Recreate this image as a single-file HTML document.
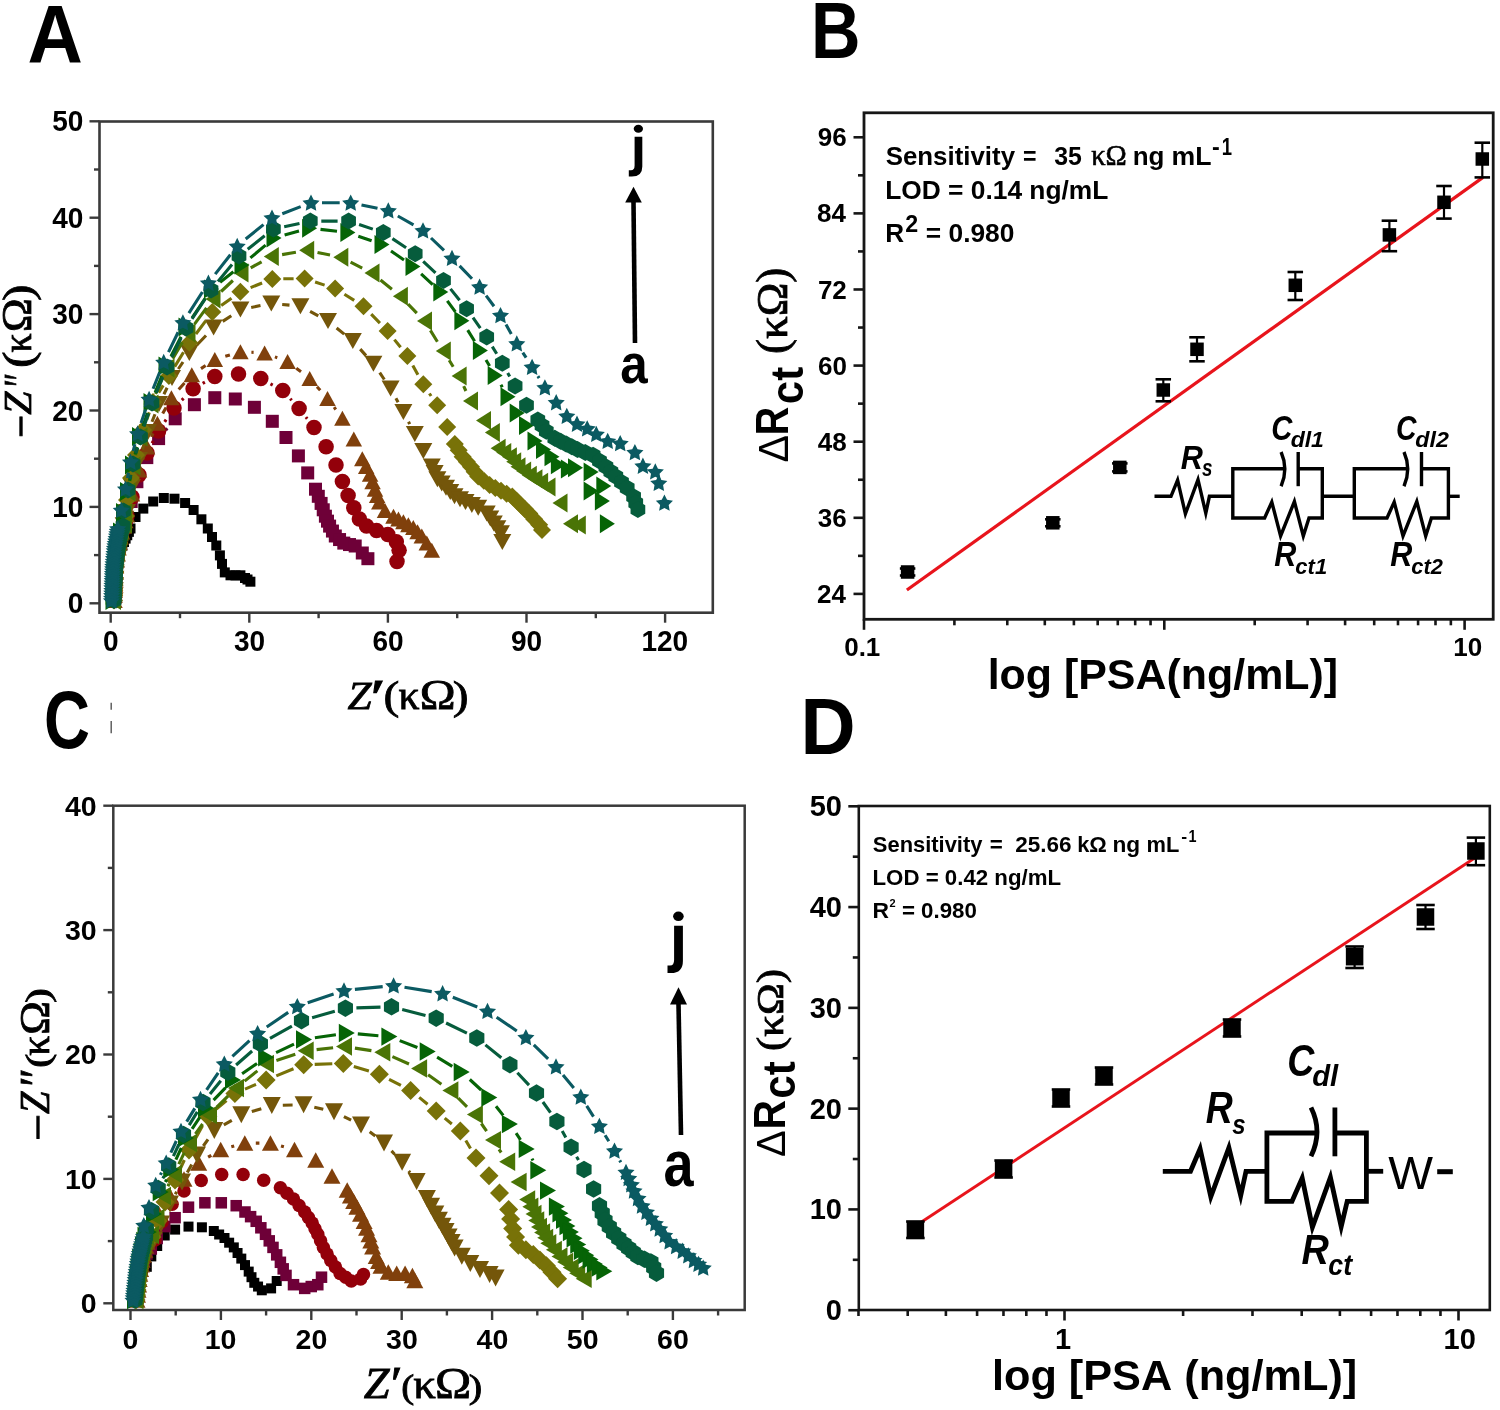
<!DOCTYPE html>
<html><head><meta charset="utf-8"><title>EIS figure</title>
<style>
html,body{margin:0;padding:0;background:#fff;}
body{width:1500px;height:1410px;overflow:hidden;font-family:"Liberation Sans",sans-serif;}
svg{display:block;will-change:transform;}
text{font-kerning:none;}
</style></head><body>
<svg xmlns="http://www.w3.org/2000/svg" width="1500" height="1410" viewBox="0 0 1500 1410">
<rect width="1500" height="1410" fill="#fff"/>
<line x1="89.50" y1="603.30" x2="99.50" y2="603.30" stroke="#3a3a3a" stroke-width="2.4" />
<text x="67.86" y="613.46" font-family='"Liberation Sans", sans-serif' font-weight="bold" font-style="normal" font-size="29.50" textLength="15.59" lengthAdjust="spacingAndGlyphs" fill="#000" >0</text>
<line x1="89.50" y1="506.90" x2="99.50" y2="506.90" stroke="#3a3a3a" stroke-width="2.4" />
<text x="52.28" y="517.06" font-family='"Liberation Sans", sans-serif' font-weight="bold" font-style="normal" font-size="29.50" textLength="31.17" lengthAdjust="spacingAndGlyphs" fill="#000" >10</text>
<line x1="89.50" y1="410.50" x2="99.50" y2="410.50" stroke="#3a3a3a" stroke-width="2.4" />
<text x="52.28" y="420.66" font-family='"Liberation Sans", sans-serif' font-weight="bold" font-style="normal" font-size="29.50" textLength="31.17" lengthAdjust="spacingAndGlyphs" fill="#000" >20</text>
<line x1="89.50" y1="314.10" x2="99.50" y2="314.10" stroke="#3a3a3a" stroke-width="2.4" />
<text x="52.28" y="324.23" font-family='"Liberation Sans", sans-serif' font-weight="bold" font-style="normal" font-size="29.50" textLength="31.17" lengthAdjust="spacingAndGlyphs" fill="#000" >30</text>
<line x1="89.50" y1="217.70" x2="99.50" y2="217.70" stroke="#3a3a3a" stroke-width="2.4" />
<text x="52.28" y="227.86" font-family='"Liberation Sans", sans-serif' font-weight="bold" font-style="normal" font-size="29.50" textLength="31.17" lengthAdjust="spacingAndGlyphs" fill="#000" >40</text>
<line x1="89.50" y1="121.30" x2="99.50" y2="121.30" stroke="#3a3a3a" stroke-width="2.4" />
<text x="52.28" y="131.46" font-family='"Liberation Sans", sans-serif' font-weight="bold" font-style="normal" font-size="29.50" textLength="31.17" lengthAdjust="spacingAndGlyphs" fill="#000" >50</text>
<line x1="94.00" y1="555.10" x2="99.50" y2="555.10" stroke="#3a3a3a" stroke-width="2.4" />
<line x1="94.00" y1="458.70" x2="99.50" y2="458.70" stroke="#3a3a3a" stroke-width="2.4" />
<line x1="94.00" y1="362.30" x2="99.50" y2="362.30" stroke="#3a3a3a" stroke-width="2.4" />
<line x1="94.00" y1="265.90" x2="99.50" y2="265.90" stroke="#3a3a3a" stroke-width="2.4" />
<line x1="94.00" y1="169.50" x2="99.50" y2="169.50" stroke="#3a3a3a" stroke-width="2.4" />
<line x1="110.70" y1="612.70" x2="110.70" y2="622.70" stroke="#3a3a3a" stroke-width="2.4" />
<text x="102.93" y="650.91" font-family='"Liberation Sans", sans-serif' font-weight="bold" font-style="normal" font-size="29.50" textLength="15.59" lengthAdjust="spacingAndGlyphs" fill="#000" >0</text>
<line x1="249.30" y1="612.70" x2="249.30" y2="622.70" stroke="#3a3a3a" stroke-width="2.4" />
<text x="233.97" y="650.88" font-family='"Liberation Sans", sans-serif' font-weight="bold" font-style="normal" font-size="29.50" textLength="31.17" lengthAdjust="spacingAndGlyphs" fill="#000" >30</text>
<line x1="387.90" y1="612.70" x2="387.90" y2="622.70" stroke="#3a3a3a" stroke-width="2.4" />
<text x="372.38" y="650.91" font-family='"Liberation Sans", sans-serif' font-weight="bold" font-style="normal" font-size="29.50" textLength="31.17" lengthAdjust="spacingAndGlyphs" fill="#000" >60</text>
<line x1="526.50" y1="612.70" x2="526.50" y2="622.70" stroke="#3a3a3a" stroke-width="2.4" />
<text x="511.00" y="650.91" font-family='"Liberation Sans", sans-serif' font-weight="bold" font-style="normal" font-size="29.50" textLength="31.17" lengthAdjust="spacingAndGlyphs" fill="#000" >90</text>
<line x1="665.10" y1="612.70" x2="665.10" y2="622.70" stroke="#3a3a3a" stroke-width="2.4" />
<text x="641.41" y="650.91" font-family='"Liberation Sans", sans-serif' font-weight="bold" font-style="normal" font-size="29.50" textLength="46.76" lengthAdjust="spacingAndGlyphs" fill="#000" >120</text>
<line x1="180.00" y1="612.70" x2="180.00" y2="618.20" stroke="#3a3a3a" stroke-width="2.4" />
<line x1="318.60" y1="612.70" x2="318.60" y2="618.20" stroke="#3a3a3a" stroke-width="2.4" />
<line x1="457.20" y1="612.70" x2="457.20" y2="618.20" stroke="#3a3a3a" stroke-width="2.4" />
<line x1="595.80" y1="612.70" x2="595.80" y2="618.20" stroke="#3a3a3a" stroke-width="2.4" />
<line x1="103.30" y1="1303.30" x2="113.30" y2="1303.30" stroke="#3a3a3a" stroke-width="2.4" />
<text x="80.82" y="1313.11" font-family='"Liberation Sans", sans-serif' font-weight="bold" font-style="normal" font-size="28.50" textLength="15.85" lengthAdjust="spacingAndGlyphs" fill="#000" >0</text>
<line x1="103.30" y1="1178.90" x2="113.30" y2="1178.90" stroke="#3a3a3a" stroke-width="2.4" />
<text x="64.97" y="1188.71" font-family='"Liberation Sans", sans-serif' font-weight="bold" font-style="normal" font-size="28.50" textLength="31.70" lengthAdjust="spacingAndGlyphs" fill="#000" >10</text>
<line x1="103.30" y1="1054.50" x2="113.30" y2="1054.50" stroke="#3a3a3a" stroke-width="2.4" />
<text x="64.97" y="1064.31" font-family='"Liberation Sans", sans-serif' font-weight="bold" font-style="normal" font-size="28.50" textLength="31.70" lengthAdjust="spacingAndGlyphs" fill="#000" >20</text>
<line x1="103.30" y1="930.10" x2="113.30" y2="930.10" stroke="#3a3a3a" stroke-width="2.4" />
<text x="64.97" y="939.89" font-family='"Liberation Sans", sans-serif' font-weight="bold" font-style="normal" font-size="28.50" textLength="31.70" lengthAdjust="spacingAndGlyphs" fill="#000" >30</text>
<line x1="103.30" y1="805.70" x2="113.30" y2="805.70" stroke="#3a3a3a" stroke-width="2.4" />
<text x="64.97" y="815.51" font-family='"Liberation Sans", sans-serif' font-weight="bold" font-style="normal" font-size="28.50" textLength="31.70" lengthAdjust="spacingAndGlyphs" fill="#000" >40</text>
<line x1="107.80" y1="1241.10" x2="113.30" y2="1241.10" stroke="#3a3a3a" stroke-width="2.4" />
<line x1="107.80" y1="1116.70" x2="113.30" y2="1116.70" stroke="#3a3a3a" stroke-width="2.4" />
<line x1="107.80" y1="992.30" x2="113.30" y2="992.30" stroke="#3a3a3a" stroke-width="2.4" />
<line x1="107.80" y1="867.90" x2="113.30" y2="867.90" stroke="#3a3a3a" stroke-width="2.4" />
<line x1="130.50" y1="1310.00" x2="130.50" y2="1320.00" stroke="#3a3a3a" stroke-width="2.4" />
<text x="122.60" y="1349.11" font-family='"Liberation Sans", sans-serif' font-weight="bold" font-style="normal" font-size="28.50" textLength="15.85" lengthAdjust="spacingAndGlyphs" fill="#000" >0</text>
<line x1="220.90" y1="1310.00" x2="220.90" y2="1320.00" stroke="#3a3a3a" stroke-width="2.4" />
<text x="204.74" y="1349.11" font-family='"Liberation Sans", sans-serif' font-weight="bold" font-style="normal" font-size="28.50" textLength="31.70" lengthAdjust="spacingAndGlyphs" fill="#000" >10</text>
<line x1="311.30" y1="1310.00" x2="311.30" y2="1320.00" stroke="#3a3a3a" stroke-width="2.4" />
<text x="295.54" y="1349.11" font-family='"Liberation Sans", sans-serif' font-weight="bold" font-style="normal" font-size="28.50" textLength="31.70" lengthAdjust="spacingAndGlyphs" fill="#000" >20</text>
<line x1="401.70" y1="1310.00" x2="401.70" y2="1320.00" stroke="#3a3a3a" stroke-width="2.4" />
<text x="386.11" y="1349.09" font-family='"Liberation Sans", sans-serif' font-weight="bold" font-style="normal" font-size="28.50" textLength="31.70" lengthAdjust="spacingAndGlyphs" fill="#000" >30</text>
<line x1="492.10" y1="1310.00" x2="492.10" y2="1320.00" stroke="#3a3a3a" stroke-width="2.4" />
<text x="476.62" y="1349.11" font-family='"Liberation Sans", sans-serif' font-weight="bold" font-style="normal" font-size="28.50" textLength="31.70" lengthAdjust="spacingAndGlyphs" fill="#000" >40</text>
<line x1="582.50" y1="1310.00" x2="582.50" y2="1320.00" stroke="#3a3a3a" stroke-width="2.4" />
<text x="566.80" y="1349.11" font-family='"Liberation Sans", sans-serif' font-weight="bold" font-style="normal" font-size="28.50" textLength="31.70" lengthAdjust="spacingAndGlyphs" fill="#000" >50</text>
<line x1="672.90" y1="1310.00" x2="672.90" y2="1320.00" stroke="#3a3a3a" stroke-width="2.4" />
<text x="657.11" y="1349.11" font-family='"Liberation Sans", sans-serif' font-weight="bold" font-style="normal" font-size="28.50" textLength="31.70" lengthAdjust="spacingAndGlyphs" fill="#000" >60</text>
<line x1="175.70" y1="1310.00" x2="175.70" y2="1315.50" stroke="#3a3a3a" stroke-width="2.4" />
<line x1="266.10" y1="1310.00" x2="266.10" y2="1315.50" stroke="#3a3a3a" stroke-width="2.4" />
<line x1="356.50" y1="1310.00" x2="356.50" y2="1315.50" stroke="#3a3a3a" stroke-width="2.4" />
<line x1="446.90" y1="1310.00" x2="446.90" y2="1315.50" stroke="#3a3a3a" stroke-width="2.4" />
<line x1="537.30" y1="1310.00" x2="537.30" y2="1315.50" stroke="#3a3a3a" stroke-width="2.4" />
<line x1="627.70" y1="1310.00" x2="627.70" y2="1315.50" stroke="#3a3a3a" stroke-width="2.4" />
<line x1="718.10" y1="1310.00" x2="718.10" y2="1315.50" stroke="#3a3a3a" stroke-width="2.4" />
<line x1="853.50" y1="593.90" x2="864.00" y2="593.90" stroke="#161616" stroke-width="2.6" />
<text x="817.02" y="602.98" font-family='"Liberation Sans", sans-serif' font-weight="bold" font-style="normal" font-size="26.00" textLength="28.92" lengthAdjust="spacingAndGlyphs" fill="#000" >24</text>
<line x1="853.50" y1="517.80" x2="864.00" y2="517.80" stroke="#161616" stroke-width="2.6" />
<text x="817.82" y="526.73" font-family='"Liberation Sans", sans-serif' font-weight="bold" font-style="normal" font-size="26.00" textLength="28.92" lengthAdjust="spacingAndGlyphs" fill="#000" >36</text>
<line x1="853.50" y1="441.69" x2="864.00" y2="441.69" stroke="#161616" stroke-width="2.6" />
<text x="817.68" y="450.64" font-family='"Liberation Sans", sans-serif' font-weight="bold" font-style="normal" font-size="26.00" textLength="28.92" lengthAdjust="spacingAndGlyphs" fill="#000" >48</text>
<line x1="853.50" y1="365.59" x2="864.00" y2="365.59" stroke="#161616" stroke-width="2.6" />
<text x="817.95" y="374.54" font-family='"Liberation Sans", sans-serif' font-weight="bold" font-style="normal" font-size="26.00" textLength="28.92" lengthAdjust="spacingAndGlyphs" fill="#000" >60</text>
<line x1="853.50" y1="289.48" x2="864.00" y2="289.48" stroke="#161616" stroke-width="2.6" />
<text x="817.92" y="298.56" font-family='"Liberation Sans", sans-serif' font-weight="bold" font-style="normal" font-size="26.00" textLength="28.92" lengthAdjust="spacingAndGlyphs" fill="#000" >72</text>
<line x1="853.50" y1="213.38" x2="864.00" y2="213.38" stroke="#161616" stroke-width="2.6" />
<text x="817.02" y="222.33" font-family='"Liberation Sans", sans-serif' font-weight="bold" font-style="normal" font-size="26.00" textLength="28.92" lengthAdjust="spacingAndGlyphs" fill="#000" >84</text>
<line x1="853.50" y1="137.28" x2="864.00" y2="137.28" stroke="#161616" stroke-width="2.6" />
<text x="817.82" y="146.23" font-family='"Liberation Sans", sans-serif' font-weight="bold" font-style="normal" font-size="26.00" textLength="28.92" lengthAdjust="spacingAndGlyphs" fill="#000" >96</text>
<line x1="858.00" y1="555.85" x2="864.00" y2="555.85" stroke="#161616" stroke-width="2.6" />
<line x1="858.00" y1="479.74" x2="864.00" y2="479.74" stroke="#161616" stroke-width="2.6" />
<line x1="858.00" y1="403.64" x2="864.00" y2="403.64" stroke="#161616" stroke-width="2.6" />
<line x1="858.00" y1="327.54" x2="864.00" y2="327.54" stroke="#161616" stroke-width="2.6" />
<line x1="858.00" y1="251.43" x2="864.00" y2="251.43" stroke="#161616" stroke-width="2.6" />
<line x1="858.00" y1="175.33" x2="864.00" y2="175.33" stroke="#161616" stroke-width="2.6" />
<line x1="864.00" y1="619.30" x2="864.00" y2="629.80" stroke="#161616" stroke-width="2.6" />
<line x1="1164.30" y1="619.30" x2="1164.30" y2="629.80" stroke="#161616" stroke-width="2.6" />
<line x1="1464.60" y1="619.30" x2="1464.60" y2="629.80" stroke="#161616" stroke-width="2.6" />
<line x1="954.40" y1="619.30" x2="954.40" y2="625.30" stroke="#161616" stroke-width="2.6" />
<line x1="1007.28" y1="619.30" x2="1007.28" y2="625.30" stroke="#161616" stroke-width="2.6" />
<line x1="1044.80" y1="619.30" x2="1044.80" y2="625.30" stroke="#161616" stroke-width="2.6" />
<line x1="1073.90" y1="619.30" x2="1073.90" y2="625.30" stroke="#161616" stroke-width="2.6" />
<line x1="1097.68" y1="619.30" x2="1097.68" y2="625.30" stroke="#161616" stroke-width="2.6" />
<line x1="1117.78" y1="619.30" x2="1117.78" y2="625.30" stroke="#161616" stroke-width="2.6" />
<line x1="1135.20" y1="619.30" x2="1135.20" y2="625.30" stroke="#161616" stroke-width="2.6" />
<line x1="1150.56" y1="619.30" x2="1150.56" y2="625.30" stroke="#161616" stroke-width="2.6" />
<line x1="1254.70" y1="619.30" x2="1254.70" y2="625.30" stroke="#161616" stroke-width="2.6" />
<line x1="1307.58" y1="619.30" x2="1307.58" y2="625.30" stroke="#161616" stroke-width="2.6" />
<line x1="1345.10" y1="619.30" x2="1345.10" y2="625.30" stroke="#161616" stroke-width="2.6" />
<line x1="1374.20" y1="619.30" x2="1374.20" y2="625.30" stroke="#161616" stroke-width="2.6" />
<line x1="1397.98" y1="619.30" x2="1397.98" y2="625.30" stroke="#161616" stroke-width="2.6" />
<line x1="1418.08" y1="619.30" x2="1418.08" y2="625.30" stroke="#161616" stroke-width="2.6" />
<line x1="1435.50" y1="619.30" x2="1435.50" y2="625.30" stroke="#161616" stroke-width="2.6" />
<line x1="1450.86" y1="619.30" x2="1450.86" y2="625.30" stroke="#161616" stroke-width="2.6" />
<text x="844.18" y="656.25" font-family='"Liberation Sans", sans-serif' font-weight="bold" font-style="normal" font-size="26.00" textLength="36.14" lengthAdjust="spacingAndGlyphs" fill="#000" >0.1</text>
<text x="1453.25" y="656.25" font-family='"Liberation Sans", sans-serif' font-weight="bold" font-style="normal" font-size="26.00" textLength="28.92" lengthAdjust="spacingAndGlyphs" fill="#000" >10</text>
<line x1="848.30" y1="1310.20" x2="858.80" y2="1310.20" stroke="#161616" stroke-width="2.6" />
<text x="825.86" y="1320.18" font-family='"Liberation Sans", sans-serif' font-weight="bold" font-style="normal" font-size="29.00" textLength="16.13" lengthAdjust="spacingAndGlyphs" fill="#000" >0</text>
<line x1="848.30" y1="1209.42" x2="858.80" y2="1209.42" stroke="#161616" stroke-width="2.6" />
<text x="809.73" y="1219.40" font-family='"Liberation Sans", sans-serif' font-weight="bold" font-style="normal" font-size="29.00" textLength="32.26" lengthAdjust="spacingAndGlyphs" fill="#000" >10</text>
<line x1="848.30" y1="1108.64" x2="858.80" y2="1108.64" stroke="#161616" stroke-width="2.6" />
<text x="809.73" y="1118.62" font-family='"Liberation Sans", sans-serif' font-weight="bold" font-style="normal" font-size="29.00" textLength="32.26" lengthAdjust="spacingAndGlyphs" fill="#000" >20</text>
<line x1="848.30" y1="1007.86" x2="858.80" y2="1007.86" stroke="#161616" stroke-width="2.6" />
<text x="809.73" y="1017.82" font-family='"Liberation Sans", sans-serif' font-weight="bold" font-style="normal" font-size="29.00" textLength="32.26" lengthAdjust="spacingAndGlyphs" fill="#000" >30</text>
<line x1="848.30" y1="907.08" x2="858.80" y2="907.08" stroke="#161616" stroke-width="2.6" />
<text x="809.73" y="917.06" font-family='"Liberation Sans", sans-serif' font-weight="bold" font-style="normal" font-size="29.00" textLength="32.26" lengthAdjust="spacingAndGlyphs" fill="#000" >40</text>
<line x1="848.30" y1="806.30" x2="858.80" y2="806.30" stroke="#161616" stroke-width="2.6" />
<text x="809.73" y="816.28" font-family='"Liberation Sans", sans-serif' font-weight="bold" font-style="normal" font-size="29.00" textLength="32.26" lengthAdjust="spacingAndGlyphs" fill="#000" >50</text>
<line x1="852.80" y1="1259.81" x2="858.80" y2="1259.81" stroke="#161616" stroke-width="2.6" />
<line x1="852.80" y1="1159.03" x2="858.80" y2="1159.03" stroke="#161616" stroke-width="2.6" />
<line x1="852.80" y1="1058.25" x2="858.80" y2="1058.25" stroke="#161616" stroke-width="2.6" />
<line x1="852.80" y1="957.47" x2="858.80" y2="957.47" stroke="#161616" stroke-width="2.6" />
<line x1="852.80" y1="856.69" x2="858.80" y2="856.69" stroke="#161616" stroke-width="2.6" />
<line x1="1064.50" y1="1310.00" x2="1064.50" y2="1320.50" stroke="#161616" stroke-width="2.6" />
<line x1="1458.50" y1="1310.00" x2="1458.50" y2="1320.50" stroke="#161616" stroke-width="2.6" />
<line x1="858.49" y1="1310.00" x2="858.49" y2="1316.00" stroke="#161616" stroke-width="2.6" />
<line x1="907.71" y1="1310.00" x2="907.71" y2="1316.00" stroke="#161616" stroke-width="2.6" />
<line x1="945.89" y1="1310.00" x2="945.89" y2="1316.00" stroke="#161616" stroke-width="2.6" />
<line x1="977.09" y1="1310.00" x2="977.09" y2="1316.00" stroke="#161616" stroke-width="2.6" />
<line x1="1003.47" y1="1310.00" x2="1003.47" y2="1316.00" stroke="#161616" stroke-width="2.6" />
<line x1="1026.32" y1="1310.00" x2="1026.32" y2="1316.00" stroke="#161616" stroke-width="2.6" />
<line x1="1046.47" y1="1310.00" x2="1046.47" y2="1316.00" stroke="#161616" stroke-width="2.6" />
<line x1="1183.11" y1="1310.00" x2="1183.11" y2="1316.00" stroke="#161616" stroke-width="2.6" />
<line x1="1252.49" y1="1310.00" x2="1252.49" y2="1316.00" stroke="#161616" stroke-width="2.6" />
<line x1="1301.71" y1="1310.00" x2="1301.71" y2="1316.00" stroke="#161616" stroke-width="2.6" />
<line x1="1339.89" y1="1310.00" x2="1339.89" y2="1316.00" stroke="#161616" stroke-width="2.6" />
<line x1="1371.09" y1="1310.00" x2="1371.09" y2="1316.00" stroke="#161616" stroke-width="2.6" />
<line x1="1397.47" y1="1310.00" x2="1397.47" y2="1316.00" stroke="#161616" stroke-width="2.6" />
<line x1="1420.32" y1="1310.00" x2="1420.32" y2="1316.00" stroke="#161616" stroke-width="2.6" />
<line x1="1440.47" y1="1310.00" x2="1440.47" y2="1316.00" stroke="#161616" stroke-width="2.6" />
<text x="1054.93" y="1348.88" font-family='"Liberation Sans", sans-serif' font-weight="bold" font-style="normal" font-size="29.00" textLength="16.13" lengthAdjust="spacingAndGlyphs" fill="#000" >1</text>
<text x="1443.55" y="1348.88" font-family='"Liberation Sans", sans-serif' font-weight="bold" font-style="normal" font-size="29.00" textLength="32.26" lengthAdjust="spacingAndGlyphs" fill="#000" >10</text>
<rect x="99.50" y="121.50" width="613.30" height="491.20" fill="none" stroke="#3a3a3a" stroke-width="2.6"/>
<rect x="113.30" y="805.70" width="631.40" height="504.30" fill="none" stroke="#3a3a3a" stroke-width="2.5"/>
<rect x="864.00" y="112.80" width="629.20" height="506.50" fill="none" stroke="#161616" stroke-width="2.8"/>
<rect x="858.80" y="806.00" width="631.00" height="504.00" fill="none" stroke="#161616" stroke-width="2.6"/>
<text x="27.39" y="61.60" font-family='"Liberation Sans", sans-serif' font-weight="bold" font-style="normal" font-size="81.40" textLength="55.33" lengthAdjust="spacingAndGlyphs" fill="#000" >A</text>
<text x="810.92" y="58.20" font-family='"Liberation Sans", sans-serif' font-weight="bold" font-style="normal" font-size="79.51" textLength="49.50" lengthAdjust="spacingAndGlyphs" fill="#000" >B</text>
<text x="44.09" y="747.91" font-family='"Liberation Sans", sans-serif' font-weight="bold" font-style="normal" font-size="80.65" textLength="45.95" lengthAdjust="spacingAndGlyphs" fill="#000" >C</text>
<text x="800.40" y="753.80" font-family='"Liberation Sans", sans-serif' font-weight="bold" font-style="normal" font-size="80.38" textLength="55.11" lengthAdjust="spacingAndGlyphs" fill="#000" >D</text>
<line x1="111.20" y1="702.80" x2="111.20" y2="709.70" stroke="#555" stroke-width="1.4" />
<line x1="111.20" y1="721.00" x2="111.20" y2="733.20" stroke="#555" stroke-width="1.4" />
<rect x="109.00" y="595.50" width="10.00" height="10.00" fill="#000000"/>
<rect x="109.12" y="591.62" width="10.00" height="10.00" fill="#000000"/>
<rect x="109.25" y="587.75" width="10.00" height="10.00" fill="#000000"/>
<rect x="109.38" y="583.88" width="10.00" height="10.00" fill="#000000"/>
<rect x="109.50" y="580.00" width="10.00" height="10.00" fill="#000000"/>
<rect x="109.80" y="576.40" width="10.00" height="10.00" fill="#000000"/>
<rect x="110.10" y="572.80" width="10.00" height="10.00" fill="#000000"/>
<rect x="110.40" y="569.20" width="10.00" height="10.00" fill="#000000"/>
<rect x="110.70" y="565.60" width="10.00" height="10.00" fill="#000000"/>
<rect x="111.00" y="562.00" width="10.00" height="10.00" fill="#000000"/>
<rect x="111.75" y="558.50" width="10.00" height="10.00" fill="#000000"/>
<rect x="112.50" y="555.00" width="10.00" height="10.00" fill="#000000"/>
<rect x="113.25" y="551.50" width="10.00" height="10.00" fill="#000000"/>
<rect x="114.00" y="548.00" width="10.00" height="10.00" fill="#000000"/>
<rect x="115.67" y="544.33" width="10.00" height="10.00" fill="#000000"/>
<rect x="117.33" y="540.67" width="10.00" height="10.00" fill="#000000"/>
<rect x="119.00" y="537.00" width="10.00" height="10.00" fill="#000000"/>
<rect x="120.62" y="533.62" width="10.00" height="10.00" fill="#000000"/>
<rect x="122.25" y="530.25" width="10.00" height="10.00" fill="#000000"/>
<rect x="123.88" y="526.88" width="10.00" height="10.00" fill="#000000"/>
<rect x="125.50" y="523.50" width="10.00" height="10.00" fill="#000000"/>
<rect x="130.50" y="512.00" width="10.00" height="10.00" fill="#000000"/>
<rect x="138.30" y="503.60" width="10.00" height="10.00" fill="#000000"/>
<rect x="148.20" y="496.50" width="10.00" height="10.00" fill="#000000"/>
<rect x="158.80" y="493.00" width="10.00" height="10.00" fill="#000000"/>
<rect x="169.50" y="493.70" width="10.00" height="10.00" fill="#000000"/>
<rect x="180.10" y="498.00" width="10.00" height="10.00" fill="#000000"/>
<rect x="188.60" y="505.00" width="10.00" height="10.00" fill="#000000"/>
<rect x="196.40" y="514.30" width="10.00" height="10.00" fill="#000000"/>
<rect x="202.80" y="523.50" width="10.00" height="10.00" fill="#000000"/>
<rect x="207.00" y="532.00" width="10.00" height="10.00" fill="#000000"/>
<rect x="211.30" y="540.50" width="10.00" height="10.00" fill="#000000"/>
<rect x="214.90" y="550.40" width="10.00" height="10.00" fill="#000000"/>
<rect x="217.00" y="558.90" width="10.00" height="10.00" fill="#000000"/>
<rect x="219.80" y="567.40" width="10.00" height="10.00" fill="#000000"/>
<rect x="225.50" y="570.30" width="10.00" height="10.00" fill="#000000"/>
<rect x="230.50" y="570.40" width="10.00" height="10.00" fill="#000000"/>
<rect x="235.40" y="570.30" width="10.00" height="10.00" fill="#000000"/>
<rect x="240.00" y="573.00" width="10.00" height="10.00" fill="#000000"/>
<rect x="242.50" y="574.50" width="10.00" height="10.00" fill="#000000"/>
<rect x="245.40" y="576.70" width="10.00" height="10.00" fill="#000000"/>
<path d="M141.1,471.5 L142.6,467.8 M165.7,430.2 L168.1,427.2" fill="none" stroke="#6E0038" stroke-width="3.1" stroke-dasharray="2.5,5"/>
<rect x="108.00" y="594.00" width="13.00" height="13.00" fill="#6E0038"/>
<rect x="108.17" y="588.83" width="13.00" height="13.00" fill="#6E0038"/>
<rect x="108.33" y="583.67" width="13.00" height="13.00" fill="#6E0038"/>
<rect x="108.50" y="578.50" width="13.00" height="13.00" fill="#6E0038"/>
<rect x="108.83" y="572.17" width="13.00" height="13.00" fill="#6E0038"/>
<rect x="109.17" y="565.83" width="13.00" height="13.00" fill="#6E0038"/>
<rect x="109.50" y="559.50" width="13.00" height="13.00" fill="#6E0038"/>
<rect x="110.33" y="553.50" width="13.00" height="13.00" fill="#6E0038"/>
<rect x="111.17" y="547.50" width="13.00" height="13.00" fill="#6E0038"/>
<rect x="112.00" y="541.50" width="13.00" height="13.00" fill="#6E0038"/>
<rect x="113.17" y="536.17" width="13.00" height="13.00" fill="#6E0038"/>
<rect x="114.33" y="530.83" width="13.00" height="13.00" fill="#6E0038"/>
<rect x="115.50" y="525.50" width="13.00" height="13.00" fill="#6E0038"/>
<rect x="117.50" y="518.50" width="13.00" height="13.00" fill="#6E0038"/>
<rect x="119.50" y="511.50" width="13.00" height="13.00" fill="#6E0038"/>
<rect x="124.70" y="495.00" width="13.00" height="13.00" fill="#6E0038"/>
<rect x="130.40" y="475.20" width="13.00" height="13.00" fill="#6E0038"/>
<rect x="140.30" y="451.10" width="13.00" height="13.00" fill="#6E0038"/>
<rect x="152.10" y="432.10" width="13.00" height="13.00" fill="#6E0038"/>
<rect x="168.70" y="412.30" width="13.00" height="13.00" fill="#6E0038"/>
<rect x="187.90" y="398.20" width="13.00" height="13.00" fill="#6E0038"/>
<rect x="208.30" y="391.20" width="13.00" height="13.00" fill="#6E0038"/>
<rect x="228.80" y="392.50" width="13.00" height="13.00" fill="#6E0038"/>
<rect x="247.90" y="400.80" width="13.00" height="13.00" fill="#6E0038"/>
<rect x="265.80" y="414.80" width="13.00" height="13.00" fill="#6E0038"/>
<rect x="279.50" y="431.00" width="13.00" height="13.00" fill="#6E0038"/>
<rect x="291.90" y="449.40" width="13.00" height="13.00" fill="#6E0038"/>
<rect x="301.20" y="466.40" width="13.00" height="13.00" fill="#6E0038"/>
<rect x="309.00" y="482.70" width="13.00" height="13.00" fill="#6E0038"/>
<rect x="311.80" y="489.80" width="13.00" height="13.00" fill="#6E0038"/>
<rect x="314.60" y="496.90" width="13.00" height="13.00" fill="#6E0038"/>
<rect x="316.75" y="503.30" width="13.00" height="13.00" fill="#6E0038"/>
<rect x="318.90" y="509.70" width="13.00" height="13.00" fill="#6E0038"/>
<rect x="321.00" y="514.65" width="13.00" height="13.00" fill="#6E0038"/>
<rect x="323.10" y="519.60" width="13.00" height="13.00" fill="#6E0038"/>
<rect x="325.95" y="524.55" width="13.00" height="13.00" fill="#6E0038"/>
<rect x="328.80" y="529.50" width="13.00" height="13.00" fill="#6E0038"/>
<rect x="333.05" y="533.05" width="13.00" height="13.00" fill="#6E0038"/>
<rect x="337.30" y="536.60" width="13.00" height="13.00" fill="#6E0038"/>
<rect x="343.00" y="538.05" width="13.00" height="13.00" fill="#6E0038"/>
<rect x="348.70" y="539.50" width="13.00" height="13.00" fill="#6E0038"/>
<rect x="355.80" y="546.50" width="13.00" height="13.00" fill="#6E0038"/>
<rect x="361.40" y="552.20" width="13.00" height="13.00" fill="#6E0038"/>
<path d="M152.1,443.3 L153.5,440.6 M164.7,421.8 L167.9,417.0 M181.8,400.1 L185.3,396.6 M202.7,383.4 L205.2,382.0 M270.5,383.9 L273.1,385.3 M290.2,398.7 L291.7,400.3 M305.9,417.1 L307.2,418.8" fill="none" stroke="#93000A" stroke-width="3.1" stroke-dasharray="2.5,5"/>
<circle cx="114.50" cy="600.50" r="7.75" fill="#93000A"/>
<circle cx="114.67" cy="595.33" r="7.75" fill="#93000A"/>
<circle cx="114.83" cy="590.17" r="7.75" fill="#93000A"/>
<circle cx="115.00" cy="585.00" r="7.75" fill="#93000A"/>
<circle cx="115.33" cy="578.67" r="7.75" fill="#93000A"/>
<circle cx="115.67" cy="572.33" r="7.75" fill="#93000A"/>
<circle cx="116.00" cy="566.00" r="7.75" fill="#93000A"/>
<circle cx="116.83" cy="560.00" r="7.75" fill="#93000A"/>
<circle cx="117.67" cy="554.00" r="7.75" fill="#93000A"/>
<circle cx="118.50" cy="548.00" r="7.75" fill="#93000A"/>
<circle cx="119.67" cy="542.67" r="7.75" fill="#93000A"/>
<circle cx="120.83" cy="537.33" r="7.75" fill="#93000A"/>
<circle cx="122.00" cy="532.00" r="7.75" fill="#93000A"/>
<circle cx="123.67" cy="526.67" r="7.75" fill="#93000A"/>
<circle cx="125.33" cy="521.33" r="7.75" fill="#93000A"/>
<circle cx="127.00" cy="516.00" r="7.75" fill="#93000A"/>
<circle cx="132.00" cy="497.00" r="7.75" fill="#93000A"/>
<circle cx="139.00" cy="475.00" r="7.75" fill="#93000A"/>
<circle cx="147.00" cy="453.00" r="7.75" fill="#93000A"/>
<circle cx="158.60" cy="430.90" r="7.75" fill="#93000A"/>
<circle cx="174.00" cy="407.90" r="7.75" fill="#93000A"/>
<circle cx="193.10" cy="388.80" r="7.75" fill="#93000A"/>
<circle cx="214.80" cy="376.60" r="7.75" fill="#93000A"/>
<circle cx="238.50" cy="374.10" r="7.75" fill="#93000A"/>
<circle cx="260.80" cy="378.60" r="7.75" fill="#93000A"/>
<circle cx="282.80" cy="390.60" r="7.75" fill="#93000A"/>
<circle cx="299.10" cy="408.40" r="7.75" fill="#93000A"/>
<circle cx="314.00" cy="427.50" r="7.75" fill="#93000A"/>
<circle cx="326.10" cy="446.70" r="7.75" fill="#93000A"/>
<circle cx="336.00" cy="465.10" r="7.75" fill="#93000A"/>
<circle cx="342.40" cy="481.40" r="7.75" fill="#93000A"/>
<circle cx="348.10" cy="495.60" r="7.75" fill="#93000A"/>
<circle cx="353.80" cy="507.70" r="7.75" fill="#93000A"/>
<circle cx="359.40" cy="519.00" r="7.75" fill="#93000A"/>
<circle cx="366.50" cy="526.10" r="7.75" fill="#93000A"/>
<circle cx="376.50" cy="530.40" r="7.75" fill="#93000A"/>
<circle cx="387.80" cy="534.60" r="7.75" fill="#93000A"/>
<circle cx="396.30" cy="541.70" r="7.75" fill="#93000A"/>
<circle cx="399.10" cy="550.20" r="7.75" fill="#93000A"/>
<circle cx="397.00" cy="561.60" r="7.75" fill="#93000A"/>
<path d="M135.1,483.4 L135.9,480.6 M142.6,459.6 L143.4,457.4 M151.4,436.9 L153.0,433.4 M162.7,413.6 L166.1,407.4 M178.7,389.5 L184.5,382.9 M201.0,368.6 L205.6,365.5 M225.3,356.2 L229.9,354.9 M251.4,352.3 L253.6,352.4 M274.9,356.9 L277.3,357.7 M296.3,368.3 L301.0,371.8 M317.0,386.7 L320.2,390.2 M334.1,407.2 L335.8,409.5" fill="none" stroke="#80400C" stroke-width="3.1" stroke-dasharray="9,4,3,4"/>
<polygon points="114.50,593.00 122.75,608.00 106.25,608.00" fill="#80400C"/>
<polygon points="114.67,587.83 122.92,602.83 106.42,602.83" fill="#80400C"/>
<polygon points="114.83,582.67 123.08,597.67 106.58,597.67" fill="#80400C"/>
<polygon points="115.00,577.50 123.25,592.50 106.75,592.50" fill="#80400C"/>
<polygon points="115.33,571.17 123.58,586.17 107.08,586.17" fill="#80400C"/>
<polygon points="115.67,564.83 123.92,579.83 107.42,579.83" fill="#80400C"/>
<polygon points="116.00,558.50 124.25,573.50 107.75,573.50" fill="#80400C"/>
<polygon points="116.83,552.50 125.08,567.50 108.58,567.50" fill="#80400C"/>
<polygon points="117.67,546.50 125.92,561.50 109.42,561.50" fill="#80400C"/>
<polygon points="118.50,540.50 126.75,555.50 110.25,555.50" fill="#80400C"/>
<polygon points="119.67,535.17 127.92,550.17 111.42,550.17" fill="#80400C"/>
<polygon points="120.83,529.83 129.08,544.83 112.58,544.83" fill="#80400C"/>
<polygon points="122.00,524.50 130.25,539.50 113.75,539.50" fill="#80400C"/>
<polygon points="123.67,518.83 131.92,533.83 115.42,533.83" fill="#80400C"/>
<polygon points="125.33,513.17 133.58,528.17 117.08,528.17" fill="#80400C"/>
<polygon points="127.00,507.50 135.25,522.50 118.75,522.50" fill="#80400C"/>
<polygon points="132.00,486.50 140.25,501.50 123.75,501.50" fill="#80400C"/>
<polygon points="139.00,462.50 147.25,477.50 130.75,477.50" fill="#80400C"/>
<polygon points="147.00,439.50 155.25,454.50 138.75,454.50" fill="#80400C"/>
<polygon points="157.40,415.80 165.65,430.80 149.15,430.80" fill="#80400C"/>
<polygon points="171.40,390.20 179.65,405.20 163.15,405.20" fill="#80400C"/>
<polygon points="191.80,367.20 200.05,382.20 183.55,382.20" fill="#80400C"/>
<polygon points="214.80,351.90 223.05,366.90 206.55,366.90" fill="#80400C"/>
<polygon points="240.40,344.20 248.65,359.20 232.15,359.20" fill="#80400C"/>
<polygon points="264.60,345.50 272.85,360.50 256.35,360.50" fill="#80400C"/>
<polygon points="287.60,354.10 295.85,369.10 279.35,369.10" fill="#80400C"/>
<polygon points="309.70,371.00 317.95,386.00 301.45,386.00" fill="#80400C"/>
<polygon points="327.50,390.90 335.75,405.90 319.25,405.90" fill="#80400C"/>
<polygon points="342.40,410.80 350.65,425.80 334.15,425.80" fill="#80400C"/>
<polygon points="353.80,431.40 362.05,446.40 345.55,446.40" fill="#80400C"/>
<polygon points="362.30,451.20 370.55,466.20 354.05,466.20" fill="#80400C"/>
<polygon points="366.20,459.00 374.45,474.00 357.95,474.00" fill="#80400C"/>
<polygon points="370.10,466.80 378.35,481.80 361.85,481.80" fill="#80400C"/>
<polygon points="372.55,474.25 380.80,489.25 364.30,489.25" fill="#80400C"/>
<polygon points="375.00,481.70 383.25,496.70 366.75,496.70" fill="#80400C"/>
<polygon points="377.15,488.10 385.40,503.10 368.90,503.10" fill="#80400C"/>
<polygon points="379.30,494.50 387.55,509.50 371.05,509.50" fill="#80400C"/>
<polygon points="385.00,503.00 393.25,518.00 376.75,518.00" fill="#80400C"/>
<polygon points="393.50,508.70 401.75,523.70 385.25,523.70" fill="#80400C"/>
<polygon points="398.45,511.50 406.70,526.50 390.20,526.50" fill="#80400C"/>
<polygon points="403.40,514.30 411.65,529.30 395.15,529.30" fill="#80400C"/>
<polygon points="408.35,517.15 416.60,532.15 400.10,532.15" fill="#80400C"/>
<polygon points="413.30,520.00 421.55,535.00 405.05,535.00" fill="#80400C"/>
<polygon points="417.55,524.25 425.80,539.25 409.30,539.25" fill="#80400C"/>
<polygon points="421.80,528.50 430.05,543.50 413.55,543.50" fill="#80400C"/>
<polygon points="426.80,535.60 435.05,550.60 418.55,550.60" fill="#80400C"/>
<polygon points="431.80,542.70 440.05,557.70 423.55,557.70" fill="#80400C"/>
<path d="M129.2,501.2 L129.8,497.8 M134.8,476.4 L136.2,470.6 M142.4,449.5 L144.6,442.5 M152.0,421.8 L155.0,414.2 M163.9,394.2 L167.1,387.8 M178.3,369.0 L183.0,362.0 M196.9,345.0 L206.0,335.5 M222.7,321.4 L231.3,315.7 M251.2,307.4 L260.5,305.6 M282.2,304.5 L289.5,305.1 M310.1,311.4 L318.3,315.9 M336.6,328.0 L344.2,334.1 M360.2,349.1 L366.0,355.6 M379.7,372.7 L384.3,379.5 M395.9,398.2 L398.1,402.2 M408.5,421.7 L409.7,424.1" fill="none" stroke="#74560A" stroke-width="3.1"/>
<polygon points="114.50,608.50 123.50,592.50 105.50,592.50" fill="#74560A"/>
<polygon points="114.67,603.33 123.67,587.33 105.67,587.33" fill="#74560A"/>
<polygon points="114.83,598.17 123.83,582.17 105.83,582.17" fill="#74560A"/>
<polygon points="115.00,593.00 124.00,577.00 106.00,577.00" fill="#74560A"/>
<polygon points="115.33,586.67 124.33,570.67 106.33,570.67" fill="#74560A"/>
<polygon points="115.67,580.33 124.67,564.33 106.67,564.33" fill="#74560A"/>
<polygon points="116.00,574.00 125.00,558.00 107.00,558.00" fill="#74560A"/>
<polygon points="116.83,568.00 125.83,552.00 107.83,552.00" fill="#74560A"/>
<polygon points="117.67,562.00 126.67,546.00 108.67,546.00" fill="#74560A"/>
<polygon points="118.50,556.00 127.50,540.00 109.50,540.00" fill="#74560A"/>
<polygon points="119.67,550.67 128.67,534.67 110.67,534.67" fill="#74560A"/>
<polygon points="120.83,545.33 129.83,529.33 111.83,529.33" fill="#74560A"/>
<polygon points="122.00,540.00 131.00,524.00 113.00,524.00" fill="#74560A"/>
<polygon points="123.67,533.33 132.67,517.33 114.67,517.33" fill="#74560A"/>
<polygon points="125.33,526.67 134.33,510.67 116.33,510.67" fill="#74560A"/>
<polygon points="127.00,520.00 136.00,504.00 118.00,504.00" fill="#74560A"/>
<polygon points="132.00,495.00 141.00,479.00 123.00,479.00" fill="#74560A"/>
<polygon points="139.00,468.00 148.00,452.00 130.00,452.00" fill="#74560A"/>
<polygon points="148.00,440.00 157.00,424.00 139.00,424.00" fill="#74560A"/>
<polygon points="159.00,412.00 168.00,396.00 150.00,396.00" fill="#74560A"/>
<polygon points="172.00,386.00 181.00,370.00 163.00,370.00" fill="#74560A"/>
<polygon points="189.30,361.00 198.30,345.00 180.30,345.00" fill="#74560A"/>
<polygon points="213.60,335.50 222.60,319.50 204.60,319.50" fill="#74560A"/>
<polygon points="240.40,317.60 249.40,301.60 231.40,301.60" fill="#74560A"/>
<polygon points="271.30,311.40 280.30,295.40 262.30,295.40" fill="#74560A"/>
<polygon points="300.40,314.20 309.40,298.20 291.40,298.20" fill="#74560A"/>
<polygon points="328.00,329.10 337.00,313.10 319.00,313.10" fill="#74560A"/>
<polygon points="352.80,349.00 361.80,333.00 343.80,333.00" fill="#74560A"/>
<polygon points="373.40,371.70 382.40,355.70 364.40,355.70" fill="#74560A"/>
<polygon points="390.60,396.50 399.60,380.50 381.60,380.50" fill="#74560A"/>
<polygon points="403.40,419.90 412.40,403.90 394.40,403.90" fill="#74560A"/>
<polygon points="414.80,441.90 423.80,425.90 405.80,425.90" fill="#74560A"/>
<polygon points="423.30,458.90 432.30,442.90 414.30,442.90" fill="#74560A"/>
<polygon points="431.80,474.50 440.80,458.50 422.80,458.50" fill="#74560A"/>
<polygon points="434.60,480.90 443.60,464.90 425.60,464.90" fill="#74560A"/>
<polygon points="437.40,487.30 446.40,471.30 428.40,471.30" fill="#74560A"/>
<polygon points="441.70,491.55 450.70,475.55 432.70,475.55" fill="#74560A"/>
<polygon points="446.00,495.80 455.00,479.80 437.00,479.80" fill="#74560A"/>
<polygon points="450.25,500.05 459.25,484.05 441.25,484.05" fill="#74560A"/>
<polygon points="454.50,504.30 463.50,488.30 445.50,488.30" fill="#74560A"/>
<polygon points="460.00,507.20 469.00,491.20 451.00,491.20" fill="#74560A"/>
<polygon points="465.50,510.10 474.50,494.10 456.50,494.10" fill="#74560A"/>
<polygon points="471.85,512.95 480.85,496.95 462.85,496.95" fill="#74560A"/>
<polygon points="478.20,515.80 487.20,499.80 469.20,499.80" fill="#74560A"/>
<polygon points="486.70,521.50 495.70,505.50 477.70,505.50" fill="#74560A"/>
<polygon points="490.25,526.45 499.25,510.45 481.25,510.45" fill="#74560A"/>
<polygon points="493.80,531.40 502.80,515.40 484.80,515.40" fill="#74560A"/>
<polygon points="497.35,536.35 506.35,520.35 488.35,520.35" fill="#74560A"/>
<polygon points="500.90,541.30 509.90,525.30 491.90,525.30" fill="#74560A"/>
<polygon points="502.30,550.00 511.30,534.00 493.30,534.00" fill="#74560A"/>
<path d="M139.0,444.4 L140.0,440.6 M146.7,419.6 L149.3,412.4 M158.7,392.6 L163.2,385.4 M174.7,366.6 L183.5,352.2 M195.9,334.0 L205.7,320.9 M221.2,305.6 L231.5,298.2 M250.6,287.6 L262.1,283.0 M283.3,278.8 L293.6,278.7 M315.1,282.0 L324.6,285.1 M344.4,294.3 L354.2,300.4 M371.2,314.1 L379.9,323.1 M394.4,339.6 L400.6,347.3 M412.8,365.5 L417.9,374.7 M429.4,393.5 L431.1,396.0" fill="none" stroke="#787208" stroke-width="3.1"/>
<polygon points="114.00,591.50 123.00,600.50 114.00,609.50 105.00,600.50" fill="#787208"/>
<polygon points="114.17,586.33 123.17,595.33 114.17,604.33 105.17,595.33" fill="#787208"/>
<polygon points="114.33,581.17 123.33,590.17 114.33,599.17 105.33,590.17" fill="#787208"/>
<polygon points="114.50,576.00 123.50,585.00 114.50,594.00 105.50,585.00" fill="#787208"/>
<polygon points="114.83,569.67 123.83,578.67 114.83,587.67 105.83,578.67" fill="#787208"/>
<polygon points="115.17,563.33 124.17,572.33 115.17,581.33 106.17,572.33" fill="#787208"/>
<polygon points="115.50,557.00 124.50,566.00 115.50,575.00 106.50,566.00" fill="#787208"/>
<polygon points="116.33,551.00 125.33,560.00 116.33,569.00 107.33,560.00" fill="#787208"/>
<polygon points="117.17,545.00 126.17,554.00 117.17,563.00 108.17,554.00" fill="#787208"/>
<polygon points="118.00,539.00 127.00,548.00 118.00,557.00 109.00,548.00" fill="#787208"/>
<polygon points="119.17,533.67 128.17,542.67 119.17,551.67 110.17,542.67" fill="#787208"/>
<polygon points="120.33,528.33 129.33,537.33 120.33,546.33 111.33,537.33" fill="#787208"/>
<polygon points="121.50,523.00 130.50,532.00 121.50,541.00 112.50,532.00" fill="#787208"/>
<polygon points="123.00,517.67 132.00,526.67 123.00,535.67 114.00,526.67" fill="#787208"/>
<polygon points="124.50,512.33 133.50,521.33 124.50,530.33 115.50,521.33" fill="#787208"/>
<polygon points="126.00,507.00 135.00,516.00 126.00,525.00 117.00,516.00" fill="#787208"/>
<polygon points="127.00,491.00 136.00,500.00 127.00,509.00 118.00,500.00" fill="#787208"/>
<polygon points="131.00,469.00 140.00,478.00 131.00,487.00 122.00,478.00" fill="#787208"/>
<polygon points="136.00,446.00 145.00,455.00 136.00,464.00 127.00,455.00" fill="#787208"/>
<polygon points="143.00,421.00 152.00,430.00 143.00,439.00 134.00,430.00" fill="#787208"/>
<polygon points="153.00,393.00 162.00,402.00 153.00,411.00 144.00,402.00" fill="#787208"/>
<polygon points="168.90,367.00 177.90,376.00 168.90,385.00 159.90,376.00" fill="#787208"/>
<polygon points="189.30,333.80 198.30,342.80 189.30,351.80 180.30,342.80" fill="#787208"/>
<polygon points="212.30,303.10 221.30,312.10 212.30,321.10 203.30,312.10" fill="#787208"/>
<polygon points="240.40,282.70 249.40,291.70 240.40,300.70 231.40,291.70" fill="#787208"/>
<polygon points="272.30,269.90 281.30,278.90 272.30,287.90 263.30,278.90" fill="#787208"/>
<polygon points="304.60,269.60 313.60,278.60 304.60,287.60 295.60,278.60" fill="#787208"/>
<polygon points="335.10,279.50 344.10,288.50 335.10,297.50 326.10,288.50" fill="#787208"/>
<polygon points="363.50,297.20 372.50,306.20 363.50,315.20 354.50,306.20" fill="#787208"/>
<polygon points="387.60,322.00 396.60,331.00 387.60,340.00 378.60,331.00" fill="#787208"/>
<polygon points="407.40,346.90 416.40,355.90 407.40,364.90 398.40,355.90" fill="#787208"/>
<polygon points="423.30,375.30 432.30,384.30 423.30,393.30 414.30,384.30" fill="#787208"/>
<polygon points="437.20,396.20 446.20,405.20 437.20,414.20 428.20,405.20" fill="#787208"/>
<polygon points="447.20,417.90 456.20,426.90 447.20,435.90 438.20,426.90" fill="#787208"/>
<polygon points="454.80,435.00 463.80,444.00 454.80,453.00 445.80,444.00" fill="#787208"/>
<polygon points="458.70,441.35 467.70,450.35 458.70,459.35 449.70,450.35" fill="#787208"/>
<polygon points="462.60,447.70 471.60,456.70 462.60,465.70 453.60,456.70" fill="#787208"/>
<polygon points="466.80,452.70 475.80,461.70 466.80,470.70 457.80,461.70" fill="#787208"/>
<polygon points="471.00,457.70 480.00,466.70 471.00,475.70 462.00,466.70" fill="#787208"/>
<polygon points="474.60,462.65 483.60,471.65 474.60,480.65 465.60,471.65" fill="#787208"/>
<polygon points="478.20,467.60 487.20,476.60 478.20,485.60 469.20,476.60" fill="#787208"/>
<polygon points="483.90,471.85 492.90,480.85 483.90,489.85 474.90,480.85" fill="#787208"/>
<polygon points="489.60,476.10 498.60,485.10 489.60,494.10 480.60,485.10" fill="#787208"/>
<polygon points="495.30,478.95 504.30,487.95 495.30,496.95 486.30,487.95" fill="#787208"/>
<polygon points="501.00,481.80 510.00,490.80 501.00,499.80 492.00,490.80" fill="#787208"/>
<polygon points="506.65,484.65 515.65,493.65 506.65,502.65 497.65,493.65" fill="#787208"/>
<polygon points="512.30,487.50 521.30,496.50 512.30,505.50 503.30,496.50" fill="#787208"/>
<polygon points="516.55,491.75 525.55,500.75 516.55,509.75 507.55,500.75" fill="#787208"/>
<polygon points="520.80,496.00 529.80,505.00 520.80,514.00 511.80,505.00" fill="#787208"/>
<polygon points="525.05,500.25 534.05,509.25 525.05,518.25 516.05,509.25" fill="#787208"/>
<polygon points="529.30,504.50 538.30,513.50 529.30,522.50 520.30,513.50" fill="#787208"/>
<polygon points="534.25,510.15 543.25,519.15 534.25,528.15 525.25,519.15" fill="#787208"/>
<polygon points="539.20,515.80 548.20,524.80 539.20,533.80 530.20,524.80" fill="#787208"/>
<polygon points="542.00,521.00 551.00,530.00 542.00,539.00 533.00,530.00" fill="#787208"/>
<path d="M130.1,481.2 L130.9,476.8 M135.6,455.3 L137.4,447.7 M143.5,426.6 L147.5,414.4 M155.5,393.9 L162.5,378.1 M172.7,358.6 L182.3,342.4 M194.5,324.1 L206.5,307.9 M221.1,291.5 L232.9,280.5 M250.7,267.8 L261.6,261.8 M282.1,254.6 L295.9,252.2 M317.5,252.4 L330.0,255.1 M350.6,262.2 L362.2,268.1 M380.5,280.0 L391.9,289.3 M408.1,304.2 L416.8,313.2 M430.4,330.4 L437.4,341.7 M449.2,360.3 L453.2,366.8 M463.7,386.1 L465.9,391.0" fill="none" stroke="#4A7406" stroke-width="3.1"/>
<polygon points="106.00,600.50 121.00,591.00 121.00,610.00" fill="#4A7406"/>
<polygon points="106.17,595.33 121.17,585.83 121.17,604.83" fill="#4A7406"/>
<polygon points="106.33,590.17 121.33,580.67 121.33,599.67" fill="#4A7406"/>
<polygon points="106.50,585.00 121.50,575.50 121.50,594.50" fill="#4A7406"/>
<polygon points="106.83,578.67 121.83,569.17 121.83,588.17" fill="#4A7406"/>
<polygon points="107.17,572.33 122.17,562.83 122.17,581.83" fill="#4A7406"/>
<polygon points="107.50,566.00 122.50,556.50 122.50,575.50" fill="#4A7406"/>
<polygon points="108.33,560.00 123.33,550.50 123.33,569.50" fill="#4A7406"/>
<polygon points="109.17,554.00 124.17,544.50 124.17,563.50" fill="#4A7406"/>
<polygon points="110.00,548.00 125.00,538.50 125.00,557.50" fill="#4A7406"/>
<polygon points="111.17,542.67 126.17,533.17 126.17,552.17" fill="#4A7406"/>
<polygon points="112.33,537.33 127.33,527.83 127.33,546.83" fill="#4A7406"/>
<polygon points="113.50,532.00 128.50,522.50 128.50,541.50" fill="#4A7406"/>
<polygon points="117.00,524.00 132.00,514.50 132.00,533.50" fill="#4A7406"/>
<polygon points="117.00,513.00 132.00,503.50 132.00,522.50" fill="#4A7406"/>
<polygon points="120.50,492.00 135.50,482.50 135.50,501.50" fill="#4A7406"/>
<polygon points="125.50,466.00 140.50,456.50 140.50,475.50" fill="#4A7406"/>
<polygon points="132.50,437.00 147.50,427.50 147.50,446.50" fill="#4A7406"/>
<polygon points="143.50,404.00 158.50,394.50 158.50,413.50" fill="#4A7406"/>
<polygon points="159.50,368.00 174.50,358.50 174.50,377.50" fill="#4A7406"/>
<polygon points="180.50,333.00 195.50,323.50 195.50,342.50" fill="#4A7406"/>
<polygon points="205.50,299.00 220.50,289.50 220.50,308.50" fill="#4A7406"/>
<polygon points="233.50,273.00 248.50,263.50 248.50,282.50" fill="#4A7406"/>
<polygon points="263.80,256.60 278.80,247.10 278.80,266.10" fill="#4A7406"/>
<polygon points="299.20,250.20 314.20,240.70 314.20,259.70" fill="#4A7406"/>
<polygon points="333.30,257.30 348.30,247.80 348.30,266.80" fill="#4A7406"/>
<polygon points="364.50,273.00 379.50,263.50 379.50,282.50" fill="#4A7406"/>
<polygon points="392.90,296.30 407.90,286.80 407.90,305.80" fill="#4A7406"/>
<polygon points="417.00,321.10 432.00,311.60 432.00,330.60" fill="#4A7406"/>
<polygon points="435.80,351.00 450.80,341.50 450.80,360.50" fill="#4A7406"/>
<polygon points="451.60,376.10 466.60,366.60 466.60,385.60" fill="#4A7406"/>
<polygon points="463.00,401.00 478.00,391.50 478.00,410.50" fill="#4A7406"/>
<polygon points="476.00,420.60 491.00,411.10 491.00,430.10" fill="#4A7406"/>
<polygon points="484.90,432.60 499.90,423.10 499.90,442.10" fill="#4A7406"/>
<polygon points="490.60,448.20 505.60,438.70 505.60,457.70" fill="#4A7406"/>
<polygon points="496.25,452.45 511.25,442.95 511.25,461.95" fill="#4A7406"/>
<polygon points="501.90,456.70 516.90,447.20 516.90,466.20" fill="#4A7406"/>
<polygon points="506.20,461.70 521.20,452.20 521.20,471.20" fill="#4A7406"/>
<polygon points="510.50,466.70 525.50,457.20 525.50,476.20" fill="#4A7406"/>
<polygon points="516.15,470.95 531.15,461.45 531.15,480.45" fill="#4A7406"/>
<polygon points="521.80,475.20 536.80,465.70 536.80,484.70" fill="#4A7406"/>
<polygon points="527.45,478.75 542.45,469.25 542.45,488.25" fill="#4A7406"/>
<polygon points="533.10,482.30 548.10,472.80 548.10,491.80" fill="#4A7406"/>
<polygon points="540.50,487.00 555.50,477.50 555.50,496.50" fill="#4A7406"/>
<polygon points="552.50,503.00 567.50,493.50 567.50,512.50" fill="#4A7406"/>
<polygon points="563.00,523.70 578.00,514.20 578.00,533.20" fill="#4A7406"/>
<polygon points="570.80,525.10 585.80,515.60 585.80,534.60" fill="#4A7406"/>
<path d="M129.5,480.7 L130.5,475.8 M135.1,454.3 L136.9,447.2 M143.0,426.1 L147.5,412.9 M155.2,392.3 L161.8,376.2 M171.0,356.2 L181.0,336.8 M192.1,317.9 L205.4,298.1 M220.1,282.2 L233.4,271.8 M250.4,257.9 L265.6,245.1 M284.6,235.1 L299.0,231.1 M320.5,229.4 L337.0,231.3 M358.3,236.2 L371.6,240.8 M391.0,250.9 L404.0,260.1 M421.1,273.9 L432.7,284.6 M447.3,300.9 L455.4,311.9 M467.7,330.1 L474.6,341.3 M486.0,360.0 L489.6,366.0 M500.9,384.8 L502.3,387.3" fill="none" stroke="#066406" stroke-width="3.1"/>
<polygon points="120.50,600.50 105.50,591.00 105.50,610.00" fill="#066406"/>
<polygon points="120.67,595.33 105.67,585.83 105.67,604.83" fill="#066406"/>
<polygon points="120.83,590.17 105.83,580.67 105.83,599.67" fill="#066406"/>
<polygon points="121.00,585.00 106.00,575.50 106.00,594.50" fill="#066406"/>
<polygon points="121.33,578.67 106.33,569.17 106.33,588.17" fill="#066406"/>
<polygon points="121.67,572.33 106.67,562.83 106.67,581.83" fill="#066406"/>
<polygon points="122.00,566.00 107.00,556.50 107.00,575.50" fill="#066406"/>
<polygon points="122.83,560.00 107.83,550.50 107.83,569.50" fill="#066406"/>
<polygon points="123.67,554.00 108.67,544.50 108.67,563.50" fill="#066406"/>
<polygon points="124.50,548.00 109.50,538.50 109.50,557.50" fill="#066406"/>
<polygon points="125.67,542.67 110.67,533.17 110.67,552.17" fill="#066406"/>
<polygon points="126.83,537.33 111.83,527.83 111.83,546.83" fill="#066406"/>
<polygon points="128.00,532.00 113.00,522.50 113.00,541.50" fill="#066406"/>
<polygon points="131.00,524.00 116.00,514.50 116.00,533.50" fill="#066406"/>
<polygon points="131.00,512.50 116.00,503.00 116.00,522.00" fill="#066406"/>
<polygon points="135.00,491.50 120.00,482.00 120.00,501.00" fill="#066406"/>
<polygon points="140.00,465.00 125.00,455.50 125.00,474.50" fill="#066406"/>
<polygon points="147.00,436.50 132.00,427.00 132.00,446.00" fill="#066406"/>
<polygon points="158.50,402.50 143.50,393.00 143.50,412.00" fill="#066406"/>
<polygon points="173.50,366.00 158.50,356.50 158.50,375.50" fill="#066406"/>
<polygon points="193.50,327.00 178.50,317.50 178.50,336.50" fill="#066406"/>
<polygon points="219.00,289.00 204.00,279.50 204.00,298.50" fill="#066406"/>
<polygon points="249.50,265.00 234.50,255.50 234.50,274.50" fill="#066406"/>
<polygon points="281.50,238.00 266.50,228.50 266.50,247.50" fill="#066406"/>
<polygon points="317.10,228.20 302.10,218.70 302.10,237.70" fill="#066406"/>
<polygon points="355.40,232.50 340.40,223.00 340.40,242.00" fill="#066406"/>
<polygon points="389.50,244.50 374.50,235.00 374.50,254.00" fill="#066406"/>
<polygon points="420.50,266.50 405.50,257.00 405.50,276.00" fill="#066406"/>
<polygon points="448.30,292.00 433.30,282.50 433.30,301.50" fill="#066406"/>
<polygon points="469.40,320.80 454.40,311.30 454.40,330.30" fill="#066406"/>
<polygon points="487.90,350.60 472.90,341.10 472.90,360.10" fill="#066406"/>
<polygon points="502.70,375.40 487.70,365.90 487.70,384.90" fill="#066406"/>
<polygon points="515.50,396.70 500.50,387.20 500.50,406.20" fill="#066406"/>
<polygon points="524.70,413.00 509.70,403.50 509.70,422.50" fill="#066406"/>
<polygon points="534.00,425.60 519.00,416.10 519.00,435.10" fill="#066406"/>
<polygon points="542.50,441.10 527.50,431.60 527.50,450.60" fill="#066406"/>
<polygon points="551.00,449.60 536.00,440.10 536.00,459.10" fill="#066406"/>
<polygon points="559.50,456.70 544.50,447.20 544.50,466.20" fill="#066406"/>
<polygon points="565.90,464.80 550.90,455.30 550.90,474.30" fill="#066406"/>
<polygon points="575.90,469.10 560.90,459.60 560.90,478.60" fill="#066406"/>
<polygon points="583.00,467.70 568.00,458.20 568.00,477.20" fill="#066406"/>
<polygon points="598.60,471.90 583.60,462.40 583.60,481.40" fill="#066406"/>
<polygon points="611.30,486.10 596.30,476.60 596.30,495.60" fill="#066406"/>
<polygon points="598.60,491.10 583.60,481.60 583.60,500.60" fill="#066406"/>
<polygon points="609.90,501.00 594.90,491.50 594.90,510.50" fill="#066406"/>
<polygon points="614.90,523.70 599.90,514.20 599.90,533.20" fill="#066406"/>
<path d="M130.1,479.2 L130.9,474.8 M135.9,453.4 L137.6,447.6 M144.0,426.6 L148.5,413.4 M156.2,392.8 L162.8,377.2 M171.8,357.1 L181.2,337.9 M192.0,318.8 L205.0,299.2 M218.0,281.5 L232.0,264.5 M247.7,249.2 L264.7,235.8 M284.2,226.7 L299.5,223.4 M321.3,221.1 L337.6,221.1 M359.1,224.5 L372.8,229.1 M392.4,238.6 L406.1,247.7 M423.2,261.3 L435.5,272.9 M450.5,288.9 L459.6,300.2 M473.0,317.7 L480.3,328.1 M492.3,346.6 L496.7,353.8 M507.7,372.9 L509.7,376.4" fill="none" stroke="#065C3C" stroke-width="3.1"/>
<polygon points="114.00,592.00 106.64,596.25 106.64,604.75 114.00,609.00 121.36,604.75 121.36,596.25" fill="#065C3C"/>
<polygon points="114.16,588.90 106.80,593.15 106.80,601.65 114.16,605.90 121.52,601.65 121.52,593.15" fill="#065C3C"/>
<polygon points="114.32,585.80 106.96,590.05 106.96,598.55 114.32,602.80 121.68,598.55 121.68,590.05" fill="#065C3C"/>
<polygon points="114.48,582.70 107.12,586.95 107.12,595.45 114.48,599.70 121.84,595.45 121.84,586.95" fill="#065C3C"/>
<polygon points="114.64,579.60 107.28,583.85 107.28,592.35 114.64,596.60 122.00,592.35 122.00,583.85" fill="#065C3C"/>
<polygon points="114.80,576.50 107.44,580.75 107.44,589.25 114.80,593.50 122.16,589.25 122.16,580.75" fill="#065C3C"/>
<polygon points="114.97,573.33 107.61,577.58 107.61,586.08 114.97,590.33 122.33,586.08 122.33,577.58" fill="#065C3C"/>
<polygon points="115.13,570.17 107.77,574.42 107.77,582.92 115.13,587.17 122.49,582.92 122.49,574.42" fill="#065C3C"/>
<polygon points="115.30,567.00 107.94,571.25 107.94,579.75 115.30,584.00 122.66,579.75 122.66,571.25" fill="#065C3C"/>
<polygon points="115.47,563.83 108.11,568.08 108.11,576.58 115.47,580.83 122.83,576.58 122.83,568.08" fill="#065C3C"/>
<polygon points="115.63,560.67 108.27,564.92 108.27,573.42 115.63,577.67 122.99,573.42 122.99,564.92" fill="#065C3C"/>
<polygon points="115.80,557.50 108.44,561.75 108.44,570.25 115.80,574.50 123.16,570.25 123.16,561.75" fill="#065C3C"/>
<polygon points="116.13,554.50 108.77,558.75 108.77,567.25 116.13,571.50 123.49,567.25 123.49,558.75" fill="#065C3C"/>
<polygon points="116.47,551.50 109.11,555.75 109.11,564.25 116.47,568.50 123.83,564.25 123.83,555.75" fill="#065C3C"/>
<polygon points="116.80,548.50 109.44,552.75 109.44,561.25 116.80,565.50 124.16,561.25 124.16,552.75" fill="#065C3C"/>
<polygon points="117.13,545.50 109.77,549.75 109.77,558.25 117.13,562.50 124.49,558.25 124.49,549.75" fill="#065C3C"/>
<polygon points="117.47,542.50 110.11,546.75 110.11,555.25 117.47,559.50 124.83,555.25 124.83,546.75" fill="#065C3C"/>
<polygon points="117.80,539.50 110.44,543.75 110.44,552.25 117.80,556.50 125.16,552.25 125.16,543.75" fill="#065C3C"/>
<polygon points="118.34,536.70 110.98,540.95 110.98,549.45 118.34,553.70 125.70,549.45 125.70,540.95" fill="#065C3C"/>
<polygon points="118.88,533.90 111.52,538.15 111.52,546.65 118.88,550.90 126.24,546.65 126.24,538.15" fill="#065C3C"/>
<polygon points="119.42,531.10 112.06,535.35 112.06,543.85 119.42,548.10 126.78,543.85 126.78,535.35" fill="#065C3C"/>
<polygon points="119.96,528.30 112.60,532.55 112.60,541.05 119.96,545.30 127.32,541.05 127.32,532.55" fill="#065C3C"/>
<polygon points="120.50,525.50 113.14,529.75 113.14,538.25 120.50,542.50 127.86,538.25 127.86,529.75" fill="#065C3C"/>
<polygon points="121.33,522.83 113.97,527.08 113.97,535.58 121.33,539.83 128.69,535.58 128.69,527.08" fill="#065C3C"/>
<polygon points="122.17,520.17 114.81,524.42 114.81,532.92 122.17,537.17 129.53,532.92 129.53,524.42" fill="#065C3C"/>
<polygon points="123.00,517.50 115.64,521.75 115.64,530.25 123.00,534.50 130.36,530.25 130.36,521.75" fill="#065C3C"/>
<polygon points="123.50,502.50 116.14,506.75 116.14,515.25 123.50,519.50 130.86,515.25 130.86,506.75" fill="#065C3C"/>
<polygon points="128.00,481.50 120.64,485.75 120.64,494.25 128.00,498.50 135.36,494.25 135.36,485.75" fill="#065C3C"/>
<polygon points="133.00,455.50 125.64,459.75 125.64,468.25 133.00,472.50 140.36,468.25 140.36,459.75" fill="#065C3C"/>
<polygon points="140.50,428.50 133.14,432.75 133.14,441.25 140.50,445.50 147.86,441.25 147.86,432.75" fill="#065C3C"/>
<polygon points="152.00,394.50 144.64,398.75 144.64,407.25 152.00,411.50 159.36,407.25 159.36,398.75" fill="#065C3C"/>
<polygon points="167.00,358.50 159.64,362.75 159.64,371.25 167.00,375.50 174.36,371.25 174.36,362.75" fill="#065C3C"/>
<polygon points="186.00,319.50 178.64,323.75 178.64,332.25 186.00,336.50 193.36,332.25 193.36,323.75" fill="#065C3C"/>
<polygon points="211.00,281.50 203.64,285.75 203.64,294.25 211.00,298.50 218.36,294.25 218.36,285.75" fill="#065C3C"/>
<polygon points="239.00,247.50 231.64,251.75 231.64,260.25 239.00,264.50 246.36,260.25 246.36,251.75" fill="#065C3C"/>
<polygon points="273.40,220.50 266.04,224.75 266.04,233.25 273.40,237.50 280.76,233.25 280.76,224.75" fill="#065C3C"/>
<polygon points="310.30,212.60 302.94,216.85 302.94,225.35 310.30,229.60 317.66,225.35 317.66,216.85" fill="#065C3C"/>
<polygon points="348.60,212.60 341.24,216.85 341.24,225.35 348.60,229.60 355.96,225.35 355.96,216.85" fill="#065C3C"/>
<polygon points="383.30,224.00 375.94,228.25 375.94,236.75 383.30,241.00 390.66,236.75 390.66,228.25" fill="#065C3C"/>
<polygon points="415.20,245.30 407.84,249.55 407.84,258.05 415.20,262.30 422.56,258.05 422.56,249.55" fill="#065C3C"/>
<polygon points="443.50,271.90 436.14,276.15 436.14,284.65 443.50,288.90 450.86,284.65 450.86,276.15" fill="#065C3C"/>
<polygon points="466.60,300.20 459.24,304.45 459.24,312.95 466.60,317.20 473.96,312.95 473.96,304.45" fill="#065C3C"/>
<polygon points="486.70,328.60 479.34,332.85 479.34,341.35 486.70,345.60 494.06,341.35 494.06,332.85" fill="#065C3C"/>
<polygon points="502.30,354.80 494.94,359.05 494.94,367.55 502.30,371.80 509.66,367.55 509.66,359.05" fill="#065C3C"/>
<polygon points="515.10,377.50 507.74,381.75 507.74,390.25 515.10,394.50 522.46,390.25 522.46,381.75" fill="#065C3C"/>
<polygon points="526.50,396.70 519.14,400.95 519.14,409.45 526.50,413.70 533.86,409.45 533.86,400.95" fill="#065C3C"/>
<polygon points="537.80,411.40 530.44,415.65 530.44,424.15 537.80,428.40 545.16,424.15 545.16,415.65" fill="#065C3C"/>
<polygon points="542.05,417.05 534.69,421.30 534.69,429.80 542.05,434.05 549.41,429.80 549.41,421.30" fill="#065C3C"/>
<polygon points="546.30,422.70 538.94,426.95 538.94,435.45 546.30,439.70 553.66,435.45 553.66,426.95" fill="#065C3C"/>
<polygon points="554.80,429.80 547.44,434.05 547.44,442.55 554.80,446.80 562.16,442.55 562.16,434.05" fill="#065C3C"/>
<polygon points="560.50,432.65 553.14,436.90 553.14,445.40 560.50,449.65 567.86,445.40 567.86,436.90" fill="#065C3C"/>
<polygon points="566.20,435.50 558.84,439.75 558.84,448.25 566.20,452.50 573.56,448.25 573.56,439.75" fill="#065C3C"/>
<polygon points="571.85,438.30 564.49,442.55 564.49,451.05 571.85,455.30 579.21,451.05 579.21,442.55" fill="#065C3C"/>
<polygon points="577.50,441.10 570.14,445.35 570.14,453.85 577.50,458.10 584.86,453.85 584.86,445.35" fill="#065C3C"/>
<polygon points="585.30,443.95 577.94,448.20 577.94,456.70 585.30,460.95 592.66,456.70 592.66,448.20" fill="#065C3C"/>
<polygon points="593.10,446.80 585.74,451.05 585.74,459.55 593.10,463.80 600.46,459.55 600.46,451.05" fill="#065C3C"/>
<polygon points="599.50,452.50 592.14,456.75 592.14,465.25 599.50,469.50 606.86,465.25 606.86,456.75" fill="#065C3C"/>
<polygon points="605.90,458.20 598.54,462.45 598.54,470.95 605.90,475.20 613.26,470.95 613.26,462.45" fill="#065C3C"/>
<polygon points="610.85,463.15 603.49,467.40 603.49,475.90 610.85,480.15 618.21,475.90 618.21,467.40" fill="#065C3C"/>
<polygon points="615.80,468.10 608.44,472.35 608.44,480.85 615.80,485.10 623.16,480.85 623.16,472.35" fill="#065C3C"/>
<polygon points="621.50,473.80 614.14,478.05 614.14,486.55 621.50,490.80 628.86,486.55 628.86,478.05" fill="#065C3C"/>
<polygon points="627.20,479.50 619.84,483.75 619.84,492.25 627.20,496.50 634.56,492.25 634.56,483.75" fill="#065C3C"/>
<polygon points="633.60,488.20 626.24,492.45 626.24,500.95 633.60,505.20 640.96,500.95 640.96,492.45" fill="#065C3C"/>
<polygon points="635.75,494.60 628.39,498.85 628.39,507.35 635.75,511.60 643.11,507.35 643.11,498.85" fill="#065C3C"/>
<polygon points="637.90,501.00 630.54,505.25 630.54,513.75 637.90,518.00 645.26,513.75 645.26,505.25" fill="#065C3C"/>
<path d="M127.5,478.0 L128.5,472.6 M133.2,451.1 L134.9,444.2 M141.1,423.1 L145.6,409.4 M153.1,388.8 L159.7,372.2 M168.5,352.1 L178.1,332.3 M188.9,313.2 L202.4,292.0 M215.2,274.1 L230.4,254.7 M245.7,239.0 L263.5,224.6 M282.3,213.7 L300.7,206.6 M322.0,202.7 L339.7,202.7 M361.5,204.9 L377.5,208.3 M397.8,216.0 L413.5,224.9 M431.0,238.0 L444.0,250.4 M459.6,265.9 L472.0,278.8 M486.1,295.6 L494.0,306.2 M506.0,324.6 L511.3,334.0 M522.8,352.7 L526.1,357.7 M537.9,376.2 L539.1,378.1" fill="none" stroke="#0B5A62" stroke-width="3.1"/>
<polygon points="111.50,592.31 114.15,597.67 120.06,598.53 115.78,602.70 116.79,608.59 111.50,605.81 106.21,608.59 107.22,602.70 102.94,598.53 108.85,597.67" fill="#0B5A62"/>
<polygon points="111.58,589.73 114.23,595.09 120.14,595.95 115.86,600.12 116.87,606.01 111.58,603.23 106.29,606.01 107.30,600.12 103.02,595.95 108.94,595.09" fill="#0B5A62"/>
<polygon points="111.67,587.14 114.31,592.50 120.23,593.36 115.95,597.53 116.96,603.42 111.67,600.64 106.38,603.42 107.39,597.53 103.11,593.36 109.02,592.50" fill="#0B5A62"/>
<polygon points="111.75,584.56 114.40,589.92 120.31,590.78 116.03,594.95 117.04,600.84 111.75,598.06 106.46,600.84 107.47,594.95 103.19,590.78 109.10,589.92" fill="#0B5A62"/>
<polygon points="111.83,581.98 114.48,587.34 120.39,588.20 116.11,592.37 117.12,598.26 111.83,595.48 106.54,598.26 107.55,592.37 103.27,588.20 109.19,587.34" fill="#0B5A62"/>
<polygon points="111.92,579.39 114.56,584.75 120.48,585.61 116.20,589.78 117.21,595.67 111.92,592.89 106.63,595.67 107.64,589.78 103.36,585.61 109.27,584.75" fill="#0B5A62"/>
<polygon points="112.00,576.81 114.65,582.17 120.56,583.03 116.28,587.20 117.29,593.09 112.00,590.31 106.71,593.09 107.72,587.20 103.44,583.03 109.35,582.17" fill="#0B5A62"/>
<polygon points="112.10,574.43 114.75,579.79 120.66,580.65 116.38,584.83 117.39,590.72 112.10,587.93 106.81,590.72 107.82,584.83 103.54,580.65 109.45,579.79" fill="#0B5A62"/>
<polygon points="112.20,572.06 114.85,577.42 120.76,578.28 116.48,582.45 117.49,588.34 112.20,585.56 106.91,588.34 107.92,582.45 103.64,578.28 109.55,577.42" fill="#0B5A62"/>
<polygon points="112.30,569.68 114.95,575.04 120.86,575.90 116.58,580.08 117.59,585.97 112.30,583.18 107.01,585.97 108.02,580.08 103.74,575.90 109.65,575.04" fill="#0B5A62"/>
<polygon points="112.40,567.31 115.05,572.67 120.96,573.53 116.68,577.70 117.69,583.59 112.40,580.81 107.11,583.59 108.12,577.70 103.84,573.53 109.75,572.67" fill="#0B5A62"/>
<polygon points="112.50,564.93 115.15,570.29 121.06,571.15 116.78,575.33 117.79,581.22 112.50,578.43 107.21,581.22 108.22,575.33 103.94,571.15 109.85,570.29" fill="#0B5A62"/>
<polygon points="112.60,562.56 115.25,567.92 121.16,568.78 116.88,572.95 117.89,578.84 112.60,576.06 107.31,578.84 108.32,572.95 104.04,568.78 109.95,567.92" fill="#0B5A62"/>
<polygon points="112.70,560.18 115.35,565.54 121.26,566.40 116.98,570.58 117.99,576.47 112.70,573.68 107.41,576.47 108.42,570.58 104.14,566.40 110.05,565.54" fill="#0B5A62"/>
<polygon points="112.80,557.81 115.45,563.17 121.36,564.03 117.08,568.20 118.09,574.09 112.80,571.31 107.51,574.09 108.52,568.20 104.24,564.03 110.15,563.17" fill="#0B5A62"/>
<polygon points="113.04,555.24 115.69,560.60 121.60,561.46 117.32,565.63 118.33,571.52 113.04,568.74 107.75,571.52 108.76,565.63 104.48,561.46 110.40,560.60" fill="#0B5A62"/>
<polygon points="113.29,552.67 115.93,558.03 121.85,558.89 117.57,563.06 118.58,568.95 113.29,566.17 108.00,568.95 109.01,563.06 104.73,558.89 110.64,558.03" fill="#0B5A62"/>
<polygon points="113.53,550.10 116.17,555.46 122.09,556.31 117.81,560.49 118.82,566.38 113.53,563.60 108.24,566.38 109.25,560.49 104.97,556.31 110.88,555.46" fill="#0B5A62"/>
<polygon points="113.77,547.52 116.42,552.88 122.33,553.74 118.05,557.91 119.06,563.81 113.77,561.02 108.48,563.81 109.49,557.91 105.21,553.74 111.13,552.88" fill="#0B5A62"/>
<polygon points="114.01,544.95 116.66,550.31 122.57,551.17 118.29,555.34 119.30,561.23 114.01,558.45 108.72,561.23 109.73,555.34 105.45,551.17 111.37,550.31" fill="#0B5A62"/>
<polygon points="114.26,542.38 116.90,547.74 122.82,548.60 118.54,552.77 119.55,558.66 114.26,555.88 108.97,558.66 109.98,552.77 105.70,548.60 111.61,547.74" fill="#0B5A62"/>
<polygon points="114.50,539.81 117.15,545.17 123.06,546.03 118.78,550.20 119.79,556.09 114.50,553.31 109.21,556.09 110.22,550.20 105.94,546.03 111.85,545.17" fill="#0B5A62"/>
<polygon points="114.90,537.37 117.55,542.73 123.46,543.59 119.18,547.76 120.19,553.65 114.90,550.87 109.61,553.65 110.62,547.76 106.34,543.59 112.25,542.73" fill="#0B5A62"/>
<polygon points="115.30,534.93 117.95,540.29 123.86,541.15 119.58,545.33 120.59,551.22 115.30,548.43 110.01,551.22 111.02,545.33 106.74,541.15 112.65,540.29" fill="#0B5A62"/>
<polygon points="115.70,532.50 118.35,537.86 124.26,538.72 119.98,542.89 120.99,548.78 115.70,546.00 110.41,548.78 111.42,542.89 107.14,538.72 113.05,537.86" fill="#0B5A62"/>
<polygon points="116.10,530.06 118.75,535.42 124.66,536.28 120.38,540.45 121.39,546.34 116.10,543.56 110.81,546.34 111.82,540.45 107.54,536.28 113.45,535.42" fill="#0B5A62"/>
<polygon points="116.50,527.62 119.15,532.98 125.06,533.84 120.78,538.01 121.79,543.90 116.50,541.12 111.21,543.90 112.22,538.01 107.94,533.84 113.85,532.98" fill="#0B5A62"/>
<polygon points="116.90,525.18 119.55,530.54 125.46,531.40 121.18,535.58 122.19,541.47 116.90,538.68 111.61,541.47 112.62,535.58 108.34,531.40 114.25,530.54" fill="#0B5A62"/>
<polygon points="117.30,522.75 119.95,528.11 125.86,528.97 121.58,533.14 122.59,539.03 117.30,536.25 112.01,539.03 113.02,533.14 108.74,528.97 114.65,528.11" fill="#0B5A62"/>
<polygon points="117.70,520.31 120.35,525.67 126.26,526.53 121.98,530.70 122.99,536.59 117.70,533.81 112.41,536.59 113.42,530.70 109.14,526.53 115.05,525.67" fill="#0B5A62"/>
<polygon points="121.30,501.81 123.95,507.17 129.86,508.03 125.58,512.20 126.59,518.09 121.30,515.31 116.01,518.09 117.02,512.20 112.74,508.03 118.65,507.17" fill="#0B5A62"/>
<polygon points="125.50,480.61 128.15,485.97 134.06,486.83 129.78,491.00 130.79,496.89 125.50,494.11 120.21,496.89 121.22,491.00 116.94,486.83 122.85,485.97" fill="#0B5A62"/>
<polygon points="130.50,453.61 133.15,458.97 139.06,459.83 134.78,464.00 135.79,469.89 130.50,467.11 125.21,469.89 126.22,464.00 121.94,459.83 127.85,458.97" fill="#0B5A62"/>
<polygon points="137.60,425.31 140.25,430.67 146.16,431.53 141.88,435.70 142.89,441.59 137.60,438.81 132.31,441.59 133.32,435.70 129.04,431.53 134.95,430.67" fill="#0B5A62"/>
<polygon points="149.10,390.81 151.75,396.17 157.66,397.03 153.38,401.20 154.39,407.09 149.10,404.31 143.81,407.09 144.82,401.20 140.54,397.03 146.45,396.17" fill="#0B5A62"/>
<polygon points="163.70,353.81 166.35,359.17 172.26,360.03 167.98,364.20 168.99,370.09 163.70,367.31 158.41,370.09 159.42,364.20 155.14,360.03 161.05,359.17" fill="#0B5A62"/>
<polygon points="182.90,314.21 185.55,319.57 191.46,320.43 187.18,324.60 188.19,330.49 182.90,327.71 177.61,330.49 178.62,324.60 174.34,320.43 180.25,319.57" fill="#0B5A62"/>
<polygon points="208.40,274.61 211.05,279.97 216.96,280.83 212.68,285.00 213.69,290.89 208.40,288.11 203.11,290.89 204.12,285.00 199.84,280.83 205.75,279.97" fill="#0B5A62"/>
<polygon points="237.20,237.81 239.85,243.17 245.76,244.03 241.48,248.20 242.49,254.09 237.20,251.31 231.91,254.09 232.92,248.20 228.64,244.03 234.55,243.17" fill="#0B5A62"/>
<polygon points="272.00,209.41 274.65,214.77 280.56,215.63 276.28,219.80 277.29,225.69 272.00,222.91 266.71,225.69 267.72,219.80 263.44,215.63 269.35,214.77" fill="#0B5A62"/>
<polygon points="311.00,194.51 313.65,199.87 319.56,200.73 315.28,204.90 316.29,210.79 311.00,208.01 305.71,210.79 306.72,204.90 302.44,200.73 308.35,199.87" fill="#0B5A62"/>
<polygon points="350.70,194.51 353.35,199.87 359.26,200.73 354.98,204.90 355.99,210.79 350.70,208.01 345.41,210.79 346.42,204.90 342.14,200.73 348.05,199.87" fill="#0B5A62"/>
<polygon points="388.30,202.31 390.95,207.67 396.86,208.53 392.58,212.70 393.59,218.59 388.30,215.81 383.01,218.59 384.02,212.70 379.74,208.53 385.65,207.67" fill="#0B5A62"/>
<polygon points="423.00,222.21 425.65,227.57 431.56,228.43 427.28,232.60 428.29,238.49 423.00,235.71 417.71,238.49 418.72,232.60 414.44,228.43 420.35,227.57" fill="#0B5A62"/>
<polygon points="452.00,249.81 454.65,255.17 460.56,256.03 456.28,260.20 457.29,266.09 452.00,263.31 446.71,266.09 447.72,260.20 443.44,256.03 449.35,255.17" fill="#0B5A62"/>
<polygon points="479.60,278.51 482.25,283.87 488.16,284.73 483.88,288.90 484.89,294.79 479.60,292.01 474.31,294.79 475.32,288.90 471.04,284.73 476.95,283.87" fill="#0B5A62"/>
<polygon points="500.50,306.91 503.15,312.27 509.06,313.13 504.78,317.30 505.79,323.19 500.50,320.41 495.21,323.19 496.22,317.30 491.94,313.13 497.85,312.27" fill="#0B5A62"/>
<polygon points="516.80,335.31 519.45,340.67 525.36,341.53 521.08,345.70 522.09,351.59 516.80,348.81 511.51,351.59 512.52,345.70 508.24,341.53 514.15,340.67" fill="#0B5A62"/>
<polygon points="532.10,358.71 534.75,364.07 540.66,364.93 536.38,369.10 537.39,374.99 532.10,372.21 526.81,374.99 527.82,369.10 523.54,364.93 529.45,364.07" fill="#0B5A62"/>
<polygon points="544.90,379.21 547.55,384.57 553.46,385.43 549.18,389.60 550.19,395.49 544.90,392.71 539.61,395.49 540.62,389.60 536.34,385.43 542.25,384.57" fill="#0B5A62"/>
<polygon points="556.20,394.11 558.85,399.47 564.76,400.33 560.48,404.50 561.49,410.39 556.20,407.61 550.91,410.39 551.92,404.50 547.64,400.33 553.55,399.47" fill="#0B5A62"/>
<polygon points="566.80,407.71 569.45,413.07 575.36,413.93 571.08,418.10 572.09,423.99 566.80,421.21 561.51,423.99 562.52,418.10 558.24,413.93 564.15,413.07" fill="#0B5A62"/>
<polygon points="577.00,415.61 579.65,420.97 585.56,421.83 581.28,426.00 582.29,431.89 577.00,429.11 571.71,431.89 572.72,426.00 568.44,421.83 574.35,420.97" fill="#0B5A62"/>
<polygon points="587.20,420.21 589.85,425.57 595.76,426.43 591.48,430.60 592.49,436.49 587.20,433.71 581.91,436.49 582.92,430.60 578.64,426.43 584.55,425.57" fill="#0B5A62"/>
<polygon points="596.30,425.81 598.95,431.17 604.86,432.03 600.58,436.20 601.59,442.09 596.30,439.31 591.01,442.09 592.02,436.20 587.74,432.03 593.65,431.17" fill="#0B5A62"/>
<polygon points="607.70,432.71 610.35,438.07 616.26,438.93 611.98,443.10 612.99,448.99 607.70,446.21 602.41,448.99 603.42,443.10 599.14,438.93 605.05,438.07" fill="#0B5A62"/>
<polygon points="620.20,434.91 622.85,440.27 628.76,441.13 624.48,445.30 625.49,451.19 620.20,448.41 614.91,451.19 615.92,445.30 611.64,441.13 617.55,440.27" fill="#0B5A62"/>
<polygon points="634.90,444.01 637.55,449.37 643.46,450.23 639.18,454.40 640.19,460.29 634.90,457.51 629.61,460.29 630.62,454.40 626.34,450.23 632.25,449.37" fill="#0B5A62"/>
<polygon points="642.90,457.61 645.55,462.97 651.46,463.83 647.18,468.00 648.19,473.89 642.90,471.11 637.61,473.89 638.62,468.00 634.34,463.83 640.25,462.97" fill="#0B5A62"/>
<polygon points="655.30,463.31 657.95,468.67 663.86,469.53 659.58,473.70 660.59,479.59 655.30,476.81 650.01,479.59 651.02,473.70 646.74,469.53 652.65,468.67" fill="#0B5A62"/>
<polygon points="658.80,474.71 661.45,480.07 667.36,480.93 663.08,485.10 664.09,490.99 658.80,488.21 653.51,490.99 654.52,485.10 650.24,480.93 656.15,480.07" fill="#0B5A62"/>
<polygon points="664.40,494.51 667.05,499.87 672.96,500.73 668.68,504.90 669.69,510.79 664.40,508.01 659.11,510.79 660.12,504.90 655.84,500.73 661.75,499.87" fill="#0B5A62"/>
<rect x="131.00" y="1295.00" width="10.00" height="10.00" fill="#000000"/>
<rect x="131.50" y="1291.00" width="10.00" height="10.00" fill="#000000"/>
<rect x="132.00" y="1287.00" width="10.00" height="10.00" fill="#000000"/>
<rect x="132.50" y="1283.67" width="10.00" height="10.00" fill="#000000"/>
<rect x="133.00" y="1280.33" width="10.00" height="10.00" fill="#000000"/>
<rect x="133.50" y="1277.00" width="10.00" height="10.00" fill="#000000"/>
<rect x="134.50" y="1273.00" width="10.00" height="10.00" fill="#000000"/>
<rect x="135.50" y="1269.00" width="10.00" height="10.00" fill="#000000"/>
<rect x="138.00" y="1265.00" width="10.00" height="10.00" fill="#000000"/>
<rect x="141.80" y="1261.80" width="10.00" height="10.00" fill="#000000"/>
<rect x="146.30" y="1251.40" width="10.00" height="10.00" fill="#000000"/>
<rect x="152.20" y="1241.00" width="10.00" height="10.00" fill="#000000"/>
<rect x="159.70" y="1230.50" width="10.00" height="10.00" fill="#000000"/>
<rect x="170.10" y="1224.60" width="10.00" height="10.00" fill="#000000"/>
<rect x="183.50" y="1221.60" width="10.00" height="10.00" fill="#000000"/>
<rect x="196.90" y="1222.30" width="10.00" height="10.00" fill="#000000"/>
<rect x="208.80" y="1226.00" width="10.00" height="10.00" fill="#000000"/>
<rect x="214.15" y="1229.50" width="10.00" height="10.00" fill="#000000"/>
<rect x="219.50" y="1233.00" width="10.00" height="10.00" fill="#000000"/>
<rect x="224.15" y="1237.70" width="10.00" height="10.00" fill="#000000"/>
<rect x="228.80" y="1242.40" width="10.00" height="10.00" fill="#000000"/>
<rect x="232.55" y="1248.00" width="10.00" height="10.00" fill="#000000"/>
<rect x="236.30" y="1253.60" width="10.00" height="10.00" fill="#000000"/>
<rect x="240.00" y="1260.10" width="10.00" height="10.00" fill="#000000"/>
<rect x="243.70" y="1266.60" width="10.00" height="10.00" fill="#000000"/>
<rect x="246.50" y="1272.20" width="10.00" height="10.00" fill="#000000"/>
<rect x="249.30" y="1277.80" width="10.00" height="10.00" fill="#000000"/>
<rect x="253.05" y="1281.55" width="10.00" height="10.00" fill="#000000"/>
<rect x="256.80" y="1285.30" width="10.00" height="10.00" fill="#000000"/>
<rect x="266.10" y="1283.40" width="10.00" height="10.00" fill="#000000"/>
<rect x="271.70" y="1276.00" width="10.00" height="10.00" fill="#000000"/>
<rect x="131.25" y="1294.25" width="11.50" height="11.50" fill="#6E0038"/>
<rect x="131.75" y="1289.25" width="11.50" height="11.50" fill="#6E0038"/>
<rect x="132.25" y="1284.25" width="11.50" height="11.50" fill="#6E0038"/>
<rect x="133.15" y="1278.25" width="11.50" height="11.50" fill="#6E0038"/>
<rect x="134.05" y="1272.25" width="11.50" height="11.50" fill="#6E0038"/>
<rect x="135.15" y="1267.25" width="11.50" height="11.50" fill="#6E0038"/>
<rect x="136.25" y="1262.25" width="11.50" height="11.50" fill="#6E0038"/>
<rect x="137.50" y="1258.25" width="11.50" height="11.50" fill="#6E0038"/>
<rect x="138.75" y="1254.25" width="11.50" height="11.50" fill="#6E0038"/>
<rect x="141.25" y="1248.25" width="11.50" height="11.50" fill="#6E0038"/>
<rect x="145.55" y="1243.25" width="11.50" height="11.50" fill="#6E0038"/>
<rect x="151.45" y="1232.75" width="11.50" height="11.50" fill="#6E0038"/>
<rect x="158.95" y="1220.85" width="11.50" height="11.50" fill="#6E0038"/>
<rect x="169.35" y="1211.95" width="11.50" height="11.50" fill="#6E0038"/>
<rect x="182.75" y="1201.45" width="11.50" height="11.50" fill="#6E0038"/>
<rect x="199.15" y="1197.05" width="11.50" height="11.50" fill="#6E0038"/>
<rect x="215.55" y="1197.05" width="11.50" height="11.50" fill="#6E0038"/>
<rect x="230.45" y="1199.95" width="11.50" height="11.50" fill="#6E0038"/>
<rect x="239.25" y="1206.25" width="11.50" height="11.50" fill="#6E0038"/>
<rect x="244.85" y="1210.90" width="11.50" height="11.50" fill="#6E0038"/>
<rect x="250.45" y="1215.55" width="11.50" height="11.50" fill="#6E0038"/>
<rect x="255.10" y="1222.05" width="11.50" height="11.50" fill="#6E0038"/>
<rect x="259.75" y="1228.55" width="11.50" height="11.50" fill="#6E0038"/>
<rect x="263.50" y="1235.10" width="11.50" height="11.50" fill="#6E0038"/>
<rect x="267.25" y="1241.65" width="11.50" height="11.50" fill="#6E0038"/>
<rect x="270.95" y="1249.10" width="11.50" height="11.50" fill="#6E0038"/>
<rect x="274.65" y="1256.55" width="11.50" height="11.50" fill="#6E0038"/>
<rect x="277.45" y="1263.10" width="11.50" height="11.50" fill="#6E0038"/>
<rect x="280.25" y="1269.65" width="11.50" height="11.50" fill="#6E0038"/>
<rect x="287.75" y="1278.95" width="11.50" height="11.50" fill="#6E0038"/>
<rect x="298.95" y="1282.65" width="11.50" height="11.50" fill="#6E0038"/>
<rect x="305.50" y="1280.80" width="11.50" height="11.50" fill="#6E0038"/>
<rect x="312.05" y="1278.95" width="11.50" height="11.50" fill="#6E0038"/>
<rect x="315.75" y="1271.45" width="11.50" height="11.50" fill="#6E0038"/>
<circle cx="137.00" cy="1300.00" r="6.75" fill="#93000A"/>
<circle cx="137.50" cy="1295.00" r="6.75" fill="#93000A"/>
<circle cx="138.00" cy="1290.00" r="6.75" fill="#93000A"/>
<circle cx="138.60" cy="1284.67" r="6.75" fill="#93000A"/>
<circle cx="139.20" cy="1279.33" r="6.75" fill="#93000A"/>
<circle cx="139.80" cy="1274.00" r="6.75" fill="#93000A"/>
<circle cx="141.00" cy="1268.00" r="6.75" fill="#93000A"/>
<circle cx="142.20" cy="1262.00" r="6.75" fill="#93000A"/>
<circle cx="143.50" cy="1257.00" r="6.75" fill="#93000A"/>
<circle cx="144.80" cy="1252.00" r="6.75" fill="#93000A"/>
<circle cx="145.90" cy="1248.00" r="6.75" fill="#93000A"/>
<circle cx="147.00" cy="1244.00" r="6.75" fill="#93000A"/>
<circle cx="155.00" cy="1240.00" r="6.75" fill="#93000A"/>
<circle cx="162.00" cy="1222.00" r="6.75" fill="#93000A"/>
<circle cx="172.10" cy="1204.30" r="6.75" fill="#93000A"/>
<circle cx="184.00" cy="1190.90" r="6.75" fill="#93000A"/>
<circle cx="201.20" cy="1180.40" r="6.75" fill="#93000A"/>
<circle cx="221.70" cy="1174.60" r="6.75" fill="#93000A"/>
<circle cx="243.10" cy="1174.60" r="6.75" fill="#93000A"/>
<circle cx="263.70" cy="1180.20" r="6.75" fill="#93000A"/>
<circle cx="280.40" cy="1187.70" r="6.75" fill="#93000A"/>
<circle cx="286.95" cy="1193.30" r="6.75" fill="#93000A"/>
<circle cx="293.50" cy="1198.90" r="6.75" fill="#93000A"/>
<circle cx="299.10" cy="1205.45" r="6.75" fill="#93000A"/>
<circle cx="304.70" cy="1212.00" r="6.75" fill="#93000A"/>
<circle cx="308.45" cy="1217.55" r="6.75" fill="#93000A"/>
<circle cx="312.20" cy="1223.10" r="6.75" fill="#93000A"/>
<circle cx="315.00" cy="1228.70" r="6.75" fill="#93000A"/>
<circle cx="317.80" cy="1234.30" r="6.75" fill="#93000A"/>
<circle cx="320.60" cy="1240.85" r="6.75" fill="#93000A"/>
<circle cx="323.40" cy="1247.40" r="6.75" fill="#93000A"/>
<circle cx="327.10" cy="1253.90" r="6.75" fill="#93000A"/>
<circle cx="330.80" cy="1260.40" r="6.75" fill="#93000A"/>
<circle cx="335.45" cy="1266.95" r="6.75" fill="#93000A"/>
<circle cx="340.10" cy="1273.50" r="6.75" fill="#93000A"/>
<circle cx="345.70" cy="1277.25" r="6.75" fill="#93000A"/>
<circle cx="351.30" cy="1281.00" r="6.75" fill="#93000A"/>
<circle cx="360.60" cy="1279.10" r="6.75" fill="#93000A"/>
<circle cx="363.50" cy="1274.50" r="6.75" fill="#93000A"/>
<path d="M208.1,1157.2 L211.3,1155.3 M231.3,1146.7 L234.2,1145.9 M255.8,1143.1 L259.4,1143.1 M281.0,1145.9 L283.9,1146.7" fill="none" stroke="#80400C" stroke-width="3.1" stroke-dasharray="9,4,3,4"/>
<polygon points="137.00,1292.25 145.50,1307.75 128.50,1307.75" fill="#80400C"/>
<polygon points="137.50,1287.25 146.00,1302.75 129.00,1302.75" fill="#80400C"/>
<polygon points="138.00,1282.25 146.50,1297.75 129.50,1297.75" fill="#80400C"/>
<polygon points="138.60,1276.92 147.10,1292.42 130.10,1292.42" fill="#80400C"/>
<polygon points="139.20,1271.58 147.70,1287.08 130.70,1287.08" fill="#80400C"/>
<polygon points="139.80,1266.25 148.30,1281.75 131.30,1281.75" fill="#80400C"/>
<polygon points="140.60,1261.58 149.10,1277.08 132.10,1277.08" fill="#80400C"/>
<polygon points="141.40,1256.92 149.90,1272.42 132.90,1272.42" fill="#80400C"/>
<polygon points="142.20,1252.25 150.70,1267.75 133.70,1267.75" fill="#80400C"/>
<polygon points="143.50,1247.25 152.00,1262.75 135.00,1262.75" fill="#80400C"/>
<polygon points="144.80,1242.25 153.30,1257.75 136.30,1257.75" fill="#80400C"/>
<polygon points="145.90,1238.25 154.40,1253.75 137.40,1253.75" fill="#80400C"/>
<polygon points="147.00,1234.25 155.50,1249.75 138.50,1249.75" fill="#80400C"/>
<polygon points="150.50,1223.25 159.00,1238.75 142.00,1238.75" fill="#80400C"/>
<polygon points="159.00,1206.25 167.50,1221.75 150.50,1221.75" fill="#80400C"/>
<polygon points="170.00,1188.25 178.50,1203.75 161.50,1203.75" fill="#80400C"/>
<polygon points="184.00,1171.25 192.50,1186.75 175.50,1186.75" fill="#80400C"/>
<polygon points="198.70,1155.25 207.20,1170.75 190.20,1170.75" fill="#80400C"/>
<polygon points="220.70,1141.75 229.20,1157.25 212.20,1157.25" fill="#80400C"/>
<polygon points="244.80,1135.35 253.30,1150.85 236.30,1150.85" fill="#80400C"/>
<polygon points="270.40,1135.35 278.90,1150.85 261.90,1150.85" fill="#80400C"/>
<polygon points="294.50,1141.75 303.00,1157.25 286.00,1157.25" fill="#80400C"/>
<polygon points="315.70,1152.35 324.20,1167.85 307.20,1167.85" fill="#80400C"/>
<polygon points="332.00,1168.25 340.50,1183.75 323.50,1183.75" fill="#80400C"/>
<polygon points="347.20,1182.25 355.70,1197.75 338.70,1197.75" fill="#80400C"/>
<polygon points="350.43,1187.88 358.93,1203.38 341.93,1203.38" fill="#80400C"/>
<polygon points="353.67,1193.52 362.17,1209.02 345.17,1209.02" fill="#80400C"/>
<polygon points="356.90,1199.15 365.40,1214.65 348.40,1214.65" fill="#80400C"/>
<polygon points="360.50,1206.35 369.00,1221.85 352.00,1221.85" fill="#80400C"/>
<polygon points="364.10,1213.55 372.60,1229.05 355.60,1229.05" fill="#80400C"/>
<polygon points="366.55,1220.20 375.05,1235.70 358.05,1235.70" fill="#80400C"/>
<polygon points="369.00,1226.85 377.50,1242.35 360.50,1242.35" fill="#80400C"/>
<polygon points="370.80,1232.90 379.30,1248.40 362.30,1248.40" fill="#80400C"/>
<polygon points="372.60,1238.95 381.10,1254.45 364.10,1254.45" fill="#80400C"/>
<polygon points="376.20,1248.55 384.70,1264.05 367.70,1264.05" fill="#80400C"/>
<polygon points="378.60,1253.40 387.10,1268.90 370.10,1268.90" fill="#80400C"/>
<polygon points="381.00,1258.25 389.50,1273.75 372.50,1273.75" fill="#80400C"/>
<polygon points="388.30,1264.25 396.80,1279.75 379.80,1279.75" fill="#80400C"/>
<polygon points="396.70,1265.45 405.20,1280.95 388.20,1280.95" fill="#80400C"/>
<polygon points="405.10,1265.45 413.60,1280.95 396.60,1280.95" fill="#80400C"/>
<polygon points="412.40,1267.85 420.90,1283.35 403.90,1283.35" fill="#80400C"/>
<polygon points="414.80,1272.65 423.30,1288.15 406.30,1288.15" fill="#80400C"/>
<path d="M175.3,1194.3 L176.7,1191.7 M187.3,1172.4 L191.7,1164.6 M203.3,1146.0 L208.0,1139.4 M223.8,1124.9 L231.8,1120.3 M251.8,1111.6 L261.3,1108.7 M282.8,1105.2 L292.6,1105.0 M314.3,1107.2 L323.3,1109.3 M343.9,1116.6 L351.1,1120.2 M369.7,1131.8 L375.3,1136.1 M391.5,1150.9 L394.6,1154.2 M408.7,1171.0 L410.0,1172.7" fill="none" stroke="#74560A" stroke-width="3.1"/>
<polygon points="136.50,1308.50 145.50,1291.50 127.50,1291.50" fill="#74560A"/>
<polygon points="137.00,1303.50 146.00,1286.50 128.00,1286.50" fill="#74560A"/>
<polygon points="137.50,1298.50 146.50,1281.50 128.50,1281.50" fill="#74560A"/>
<polygon points="138.10,1293.17 147.10,1276.17 129.10,1276.17" fill="#74560A"/>
<polygon points="138.70,1287.83 147.70,1270.83 129.70,1270.83" fill="#74560A"/>
<polygon points="139.30,1282.50 148.30,1265.50 130.30,1265.50" fill="#74560A"/>
<polygon points="140.10,1277.17 149.10,1260.17 131.10,1260.17" fill="#74560A"/>
<polygon points="140.90,1271.83 149.90,1254.83 131.90,1254.83" fill="#74560A"/>
<polygon points="141.70,1266.50 150.70,1249.50 132.70,1249.50" fill="#74560A"/>
<polygon points="143.10,1260.50 152.10,1243.50 134.10,1243.50" fill="#74560A"/>
<polygon points="144.50,1254.50 153.50,1237.50 135.50,1237.50" fill="#74560A"/>
<polygon points="145.75,1250.50 154.75,1233.50 136.75,1233.50" fill="#74560A"/>
<polygon points="147.00,1246.50 156.00,1229.50 138.00,1229.50" fill="#74560A"/>
<polygon points="154.00,1248.50 163.00,1231.50 145.00,1231.50" fill="#74560A"/>
<polygon points="161.00,1232.50 170.00,1215.50 152.00,1215.50" fill="#74560A"/>
<polygon points="170.00,1212.50 179.00,1195.50 161.00,1195.50" fill="#74560A"/>
<polygon points="182.00,1190.50 191.00,1173.50 173.00,1173.50" fill="#74560A"/>
<polygon points="197.00,1163.50 206.00,1146.50 188.00,1146.50" fill="#74560A"/>
<polygon points="214.30,1138.90 223.30,1121.90 205.30,1121.90" fill="#74560A"/>
<polygon points="241.30,1123.30 250.30,1106.30 232.30,1106.30" fill="#74560A"/>
<polygon points="271.80,1114.00 280.80,1097.00 262.80,1097.00" fill="#74560A"/>
<polygon points="303.60,1113.20 312.60,1096.20 294.60,1096.20" fill="#74560A"/>
<polygon points="334.00,1120.30 343.00,1103.30 325.00,1103.30" fill="#74560A"/>
<polygon points="361.00,1133.50 370.00,1116.50 352.00,1116.50" fill="#74560A"/>
<polygon points="384.00,1151.40 393.00,1134.40 375.00,1134.40" fill="#74560A"/>
<polygon points="402.10,1170.70 411.10,1153.70 393.10,1153.70" fill="#74560A"/>
<polygon points="416.60,1190.00 425.60,1173.00 407.60,1173.00" fill="#74560A"/>
<polygon points="426.90,1206.90 435.90,1189.90 417.90,1189.90" fill="#74560A"/>
<polygon points="431.10,1214.75 440.10,1197.75 422.10,1197.75" fill="#74560A"/>
<polygon points="435.30,1222.60 444.30,1205.60 426.30,1205.60" fill="#74560A"/>
<polygon points="438.90,1228.65 447.90,1211.65 429.90,1211.65" fill="#74560A"/>
<polygon points="442.50,1234.70 451.50,1217.70 433.50,1217.70" fill="#74560A"/>
<polygon points="445.55,1240.10 454.55,1223.10 436.55,1223.10" fill="#74560A"/>
<polygon points="448.60,1245.50 457.60,1228.50 439.60,1228.50" fill="#74560A"/>
<polygon points="451.60,1250.95 460.60,1233.95 442.60,1233.95" fill="#74560A"/>
<polygon points="454.60,1256.40 463.60,1239.40 445.60,1239.40" fill="#74560A"/>
<polygon points="461.80,1264.80 470.80,1247.80 452.80,1247.80" fill="#74560A"/>
<polygon points="470.30,1272.00 479.30,1255.00 461.30,1255.00" fill="#74560A"/>
<polygon points="480.00,1278.10 489.00,1261.10 471.00,1261.10" fill="#74560A"/>
<polygon points="489.60,1282.90 498.60,1265.90 480.60,1265.90" fill="#74560A"/>
<polygon points="495.60,1286.50 504.60,1269.50 486.60,1269.50" fill="#74560A"/>
<path d="M169.6,1192.0 L170.4,1190.0 M179.7,1170.0 L184.3,1160.0 M194.4,1140.4 L202.5,1125.8 M216.3,1109.1 L226.5,1100.6 M245.0,1089.1 L256.0,1084.4 M276.3,1075.9 L293.5,1068.8 M314.7,1064.4 L332.3,1063.8 M353.8,1066.6 L368.9,1071.1 M389.1,1079.3 L400.9,1085.4 M419.2,1097.4 L427.6,1104.2 M444.7,1118.1 L451.8,1124.0 M465.8,1140.5 L470.5,1148.5" fill="none" stroke="#787208" stroke-width="3.1"/>
<polygon points="136.00,1290.50 145.50,1300.00 136.00,1309.50 126.50,1300.00" fill="#787208"/>
<polygon points="136.50,1285.50 146.00,1295.00 136.50,1304.50 127.00,1295.00" fill="#787208"/>
<polygon points="137.00,1280.50 146.50,1290.00 137.00,1299.50 127.50,1290.00" fill="#787208"/>
<polygon points="137.60,1275.17 147.10,1284.67 137.60,1294.17 128.10,1284.67" fill="#787208"/>
<polygon points="138.20,1269.83 147.70,1279.33 138.20,1288.83 128.70,1279.33" fill="#787208"/>
<polygon points="138.80,1264.50 148.30,1274.00 138.80,1283.50 129.30,1274.00" fill="#787208"/>
<polygon points="139.60,1259.17 149.10,1268.67 139.60,1278.17 130.10,1268.67" fill="#787208"/>
<polygon points="140.40,1253.83 149.90,1263.33 140.40,1272.83 130.90,1263.33" fill="#787208"/>
<polygon points="141.20,1248.50 150.70,1258.00 141.20,1267.50 131.70,1258.00" fill="#787208"/>
<polygon points="142.60,1242.50 152.10,1252.00 142.60,1261.50 133.10,1252.00" fill="#787208"/>
<polygon points="144.00,1236.50 153.50,1246.00 144.00,1255.50 134.50,1246.00" fill="#787208"/>
<polygon points="145.25,1231.50 154.75,1241.00 145.25,1250.50 135.75,1241.00" fill="#787208"/>
<polygon points="146.50,1226.50 156.00,1236.00 146.50,1245.50 137.00,1236.00" fill="#787208"/>
<polygon points="152.00,1227.50 161.50,1237.00 152.00,1246.50 142.50,1237.00" fill="#787208"/>
<polygon points="158.00,1211.50 167.50,1221.00 158.00,1230.50 148.50,1221.00" fill="#787208"/>
<polygon points="165.00,1192.50 174.50,1202.00 165.00,1211.50 155.50,1202.00" fill="#787208"/>
<polygon points="175.00,1170.50 184.50,1180.00 175.00,1189.50 165.50,1180.00" fill="#787208"/>
<polygon points="189.00,1140.50 198.50,1150.00 189.00,1159.50 179.50,1150.00" fill="#787208"/>
<polygon points="207.90,1106.70 217.40,1116.20 207.90,1125.70 198.40,1116.20" fill="#787208"/>
<polygon points="234.90,1084.00 244.40,1093.50 234.90,1103.00 225.40,1093.50" fill="#787208"/>
<polygon points="266.10,1070.50 275.60,1080.00 266.10,1089.50 256.60,1080.00" fill="#787208"/>
<polygon points="303.70,1055.20 313.20,1064.70 303.70,1074.20 294.20,1064.70" fill="#787208"/>
<polygon points="343.30,1054.00 352.80,1063.50 343.30,1073.00 333.80,1063.50" fill="#787208"/>
<polygon points="379.40,1064.70 388.90,1074.20 379.40,1083.70 369.90,1074.20" fill="#787208"/>
<polygon points="410.60,1081.00 420.10,1090.50 410.60,1100.00 401.10,1090.50" fill="#787208"/>
<polygon points="436.20,1101.60 445.70,1111.10 436.20,1120.60 426.70,1111.10" fill="#787208"/>
<polygon points="460.30,1121.50 469.80,1131.00 460.30,1140.50 450.80,1131.00" fill="#787208"/>
<polygon points="476.00,1148.50 485.50,1158.00 476.00,1167.50 466.50,1158.00" fill="#787208"/>
<polygon points="489.00,1166.30 498.50,1175.80 489.00,1185.30 479.50,1175.80" fill="#787208"/>
<polygon points="499.50,1183.60 509.00,1193.10 499.50,1202.60 490.00,1193.10" fill="#787208"/>
<polygon points="508.60,1200.00 518.10,1209.50 508.60,1219.00 499.10,1209.50" fill="#787208"/>
<polygon points="510.65,1209.55 520.15,1219.05 510.65,1228.55 501.15,1219.05" fill="#787208"/>
<polygon points="512.70,1219.10 522.20,1228.60 512.70,1238.10 503.20,1228.60" fill="#787208"/>
<polygon points="515.55,1227.40 525.05,1236.90 515.55,1246.40 506.05,1236.90" fill="#787208"/>
<polygon points="518.40,1235.70 527.90,1245.20 518.40,1254.70 508.90,1245.20" fill="#787208"/>
<polygon points="525.85,1240.35 535.35,1249.85 525.85,1259.35 516.35,1249.85" fill="#787208"/>
<polygon points="533.30,1245.00 542.80,1254.50 533.30,1264.00 523.80,1254.50" fill="#787208"/>
<polygon points="539.85,1250.60 549.35,1260.10 539.85,1269.60 530.35,1260.10" fill="#787208"/>
<polygon points="546.40,1256.20 555.90,1265.70 546.40,1275.20 536.90,1265.70" fill="#787208"/>
<polygon points="552.00,1262.75 561.50,1272.25 552.00,1281.75 542.50,1272.25" fill="#787208"/>
<polygon points="557.60,1269.30 567.10,1278.80 557.60,1288.30 548.10,1278.80" fill="#787208"/>
<path d="M167.9,1186.2 L169.1,1183.8 M178.8,1164.1 L184.2,1152.9 M195.4,1134.0 L202.6,1124.0 M216.8,1107.2 L228.2,1095.8 M244.6,1081.1 L257.4,1070.9 M276.4,1060.5 L295.3,1054.3 M316.6,1049.6 L333.1,1047.7 M354.9,1048.1 L371.4,1050.6 M392.4,1056.7 L409.0,1064.0 M428.1,1074.8 L441.4,1084.2 M458.3,1098.2 L467.0,1106.8 M481.3,1123.5 L486.6,1131.1 M499.0,1149.3 L501.2,1152.5" fill="none" stroke="#4A7406" stroke-width="3.1"/>
<polygon points="127.50,1300.00 143.50,1290.80 143.50,1309.20" fill="#4A7406"/>
<polygon points="128.00,1295.00 144.00,1285.80 144.00,1304.20" fill="#4A7406"/>
<polygon points="128.50,1290.00 144.50,1280.80 144.50,1299.20" fill="#4A7406"/>
<polygon points="129.10,1284.67 145.10,1275.47 145.10,1293.87" fill="#4A7406"/>
<polygon points="129.70,1279.33 145.70,1270.13 145.70,1288.53" fill="#4A7406"/>
<polygon points="130.30,1274.00 146.30,1264.80 146.30,1283.20" fill="#4A7406"/>
<polygon points="131.10,1268.67 147.10,1259.47 147.10,1277.87" fill="#4A7406"/>
<polygon points="131.90,1263.33 147.90,1254.13 147.90,1272.53" fill="#4A7406"/>
<polygon points="132.70,1258.00 148.70,1248.80 148.70,1267.20" fill="#4A7406"/>
<polygon points="134.10,1252.00 150.10,1242.80 150.10,1261.20" fill="#4A7406"/>
<polygon points="135.50,1246.00 151.50,1236.80 151.50,1255.20" fill="#4A7406"/>
<polygon points="136.75,1241.00 152.75,1231.80 152.75,1250.20" fill="#4A7406"/>
<polygon points="138.00,1236.00 154.00,1226.80 154.00,1245.20" fill="#4A7406"/>
<polygon points="143.00,1235.00 159.00,1225.80 159.00,1244.20" fill="#4A7406"/>
<polygon points="148.50,1218.00 164.50,1208.80 164.50,1227.20" fill="#4A7406"/>
<polygon points="155.00,1196.00 171.00,1186.80 171.00,1205.20" fill="#4A7406"/>
<polygon points="166.00,1174.00 182.00,1164.80 182.00,1183.20" fill="#4A7406"/>
<polygon points="181.00,1143.00 197.00,1133.80 197.00,1152.20" fill="#4A7406"/>
<polygon points="201.00,1115.00 217.00,1105.80 217.00,1124.20" fill="#4A7406"/>
<polygon points="228.00,1088.00 244.00,1078.80 244.00,1097.20" fill="#4A7406"/>
<polygon points="258.00,1064.00 274.00,1054.80 274.00,1073.20" fill="#4A7406"/>
<polygon points="297.70,1050.80 313.70,1041.60 313.70,1060.00" fill="#4A7406"/>
<polygon points="336.00,1046.50 352.00,1037.30 352.00,1055.70" fill="#4A7406"/>
<polygon points="374.30,1052.20 390.30,1043.00 390.30,1061.40" fill="#4A7406"/>
<polygon points="411.10,1068.50 427.10,1059.30 427.10,1077.70" fill="#4A7406"/>
<polygon points="442.40,1090.50 458.40,1081.30 458.40,1099.70" fill="#4A7406"/>
<polygon points="466.90,1114.50 482.90,1105.30 482.90,1123.70" fill="#4A7406"/>
<polygon points="485.00,1140.10 501.00,1130.90 501.00,1149.30" fill="#4A7406"/>
<polygon points="499.20,1161.70 515.20,1152.50 515.20,1170.90" fill="#4A7406"/>
<polygon points="510.60,1182.00 526.60,1172.80 526.60,1191.20" fill="#4A7406"/>
<polygon points="519.20,1199.50 535.20,1190.30 535.20,1208.70" fill="#4A7406"/>
<polygon points="522.35,1206.75 538.35,1197.55 538.35,1215.95" fill="#4A7406"/>
<polygon points="525.50,1214.00 541.50,1204.80 541.50,1223.20" fill="#4A7406"/>
<polygon points="528.25,1220.50 544.25,1211.30 544.25,1229.70" fill="#4A7406"/>
<polygon points="531.00,1227.00 547.00,1217.80 547.00,1236.20" fill="#4A7406"/>
<polygon points="534.10,1232.43 550.10,1223.23 550.10,1241.63" fill="#4A7406"/>
<polygon points="537.20,1237.87 553.20,1228.67 553.20,1247.07" fill="#4A7406"/>
<polygon points="540.30,1243.30 556.30,1234.10 556.30,1252.50" fill="#4A7406"/>
<polygon points="545.90,1249.85 561.90,1240.65 561.90,1259.05" fill="#4A7406"/>
<polygon points="551.50,1256.40 567.50,1247.20 567.50,1265.60" fill="#4A7406"/>
<polygon points="557.10,1262.00 573.10,1252.80 573.10,1271.20" fill="#4A7406"/>
<polygon points="562.70,1267.60 578.70,1258.40 578.70,1276.80" fill="#4A7406"/>
<polygon points="569.20,1273.20 585.20,1264.00 585.20,1282.40" fill="#4A7406"/>
<polygon points="575.70,1278.80 591.70,1269.60 591.70,1288.00" fill="#4A7406"/>
<path d="M165.4,1182.0 L166.5,1179.6 M175.9,1159.6 L181.3,1148.0 M192.1,1128.8 L199.9,1117.2 M213.6,1100.1 L225.4,1087.9 M242.1,1073.8 L257.0,1063.5 M276.1,1052.6 L294.0,1044.2 M314.9,1037.8 L335.9,1034.7 M357.8,1033.9 L378.4,1035.7 M399.7,1040.6 L417.4,1047.5 M437.1,1057.2 L452.3,1066.3 M469.8,1079.5 L481.2,1090.0 M496.0,1106.2 L503.2,1115.4 M516.1,1133.2 L520.5,1139.8 M532.0,1158.6 L533.0,1160.5" fill="none" stroke="#066406" stroke-width="3.1"/>
<polygon points="143.00,1300.00 127.00,1290.80 127.00,1309.20" fill="#066406"/>
<polygon points="143.50,1295.00 127.50,1285.80 127.50,1304.20" fill="#066406"/>
<polygon points="144.00,1290.00 128.00,1280.80 128.00,1299.20" fill="#066406"/>
<polygon points="144.60,1284.67 128.60,1275.47 128.60,1293.87" fill="#066406"/>
<polygon points="145.20,1279.33 129.20,1270.13 129.20,1288.53" fill="#066406"/>
<polygon points="145.80,1274.00 129.80,1264.80 129.80,1283.20" fill="#066406"/>
<polygon points="146.60,1268.67 130.60,1259.47 130.60,1277.87" fill="#066406"/>
<polygon points="147.40,1263.33 131.40,1254.13 131.40,1272.53" fill="#066406"/>
<polygon points="148.20,1258.00 132.20,1248.80 132.20,1267.20" fill="#066406"/>
<polygon points="149.60,1252.00 133.60,1242.80 133.60,1261.20" fill="#066406"/>
<polygon points="151.00,1246.00 135.00,1236.80 135.00,1255.20" fill="#066406"/>
<polygon points="152.25,1241.00 136.25,1231.80 136.25,1250.20" fill="#066406"/>
<polygon points="153.50,1236.00 137.50,1226.80 137.50,1245.20" fill="#066406"/>
<polygon points="156.80,1232.00 140.80,1222.80 140.80,1241.20" fill="#066406"/>
<polygon points="162.00,1214.00 146.00,1204.80 146.00,1223.20" fill="#066406"/>
<polygon points="168.70,1192.00 152.70,1182.80 152.70,1201.20" fill="#066406"/>
<polygon points="179.20,1169.60 163.20,1160.40 163.20,1178.80" fill="#066406"/>
<polygon points="194.00,1138.00 178.00,1128.80 178.00,1147.20" fill="#066406"/>
<polygon points="214.00,1108.00 198.00,1098.80 198.00,1117.20" fill="#066406"/>
<polygon points="241.00,1080.00 225.00,1070.80 225.00,1089.20" fill="#066406"/>
<polygon points="274.10,1057.30 258.10,1048.10 258.10,1066.50" fill="#066406"/>
<polygon points="312.00,1039.50 296.00,1030.30 296.00,1048.70" fill="#066406"/>
<polygon points="354.80,1033.00 338.80,1023.80 338.80,1042.20" fill="#066406"/>
<polygon points="397.40,1036.60 381.40,1027.40 381.40,1045.80" fill="#066406"/>
<polygon points="435.70,1051.50 419.70,1042.30 419.70,1060.70" fill="#066406"/>
<polygon points="469.70,1072.00 453.70,1062.80 453.70,1081.20" fill="#066406"/>
<polygon points="497.30,1097.50 481.30,1088.30 481.30,1106.70" fill="#066406"/>
<polygon points="517.90,1124.10 501.90,1114.90 501.90,1133.30" fill="#066406"/>
<polygon points="534.70,1148.90 518.70,1139.70 518.70,1158.10" fill="#066406"/>
<polygon points="546.30,1170.20 530.30,1161.00 530.30,1179.40" fill="#066406"/>
<polygon points="556.00,1190.60 540.00,1181.40 540.00,1199.80" fill="#066406"/>
<polygon points="564.90,1206.60 548.90,1197.40 548.90,1215.80" fill="#066406"/>
<polygon points="568.45,1213.25 552.45,1204.05 552.45,1222.45" fill="#066406"/>
<polygon points="572.00,1219.90 556.00,1210.70 556.00,1229.10" fill="#066406"/>
<polygon points="575.45,1225.95 559.45,1216.75 559.45,1235.15" fill="#066406"/>
<polygon points="578.90,1232.00 562.90,1222.80 562.90,1241.20" fill="#066406"/>
<polygon points="582.57,1238.27 566.57,1229.07 566.57,1247.47" fill="#066406"/>
<polygon points="586.23,1244.53 570.23,1235.33 570.23,1253.73" fill="#066406"/>
<polygon points="589.90,1250.80 573.90,1241.60 573.90,1260.00" fill="#066406"/>
<polygon points="594.23,1255.17 578.23,1245.97 578.23,1264.37" fill="#066406"/>
<polygon points="598.57,1259.53 582.57,1250.33 582.57,1268.73" fill="#066406"/>
<polygon points="602.90,1263.90 586.90,1254.70 586.90,1273.10" fill="#066406"/>
<polygon points="607.60,1267.60 591.60,1258.40 591.60,1276.80" fill="#066406"/>
<polygon points="612.30,1271.30 596.30,1262.10 596.30,1280.50" fill="#066406"/>
<path d="M162.9,1178.4 L164.0,1176.1 M173.4,1156.1 L178.8,1144.5 M189.2,1125.1 L197.3,1111.9 M210.0,1094.0 L220.8,1080.7 M236.1,1065.0 L252.1,1051.0 M270.0,1038.4 L291.9,1026.1 M312.1,1017.7 L334.8,1011.2 M356.4,1007.9 L380.5,1007.1 M402.2,1009.5 L425.5,1015.5 M446.1,1023.0 L466.9,1033.2 M485.4,1044.9 L501.3,1057.8 M517.4,1072.7 L529.0,1085.1 M542.9,1102.0 L550.5,1112.6 M562.2,1131.1 L565.8,1137.6 M576.6,1156.7 L578.5,1160.0" fill="none" stroke="#065C3C" stroke-width="3.1"/>
<polygon points="135.00,1291.25 127.42,1295.62 127.42,1304.38 135.00,1308.75 142.58,1304.38 142.58,1295.62" fill="#065C3C"/>
<polygon points="135.33,1287.92 127.76,1292.29 127.76,1301.04 135.33,1305.42 142.91,1301.04 142.91,1292.29" fill="#065C3C"/>
<polygon points="135.67,1284.58 128.09,1288.96 128.09,1297.71 135.67,1302.08 143.24,1297.71 143.24,1288.96" fill="#065C3C"/>
<polygon points="136.00,1281.25 128.42,1285.62 128.42,1294.38 136.00,1298.75 143.58,1294.38 143.58,1285.62" fill="#065C3C"/>
<polygon points="136.36,1278.05 128.78,1282.42 128.78,1291.17 136.36,1295.55 143.94,1291.17 143.94,1282.42" fill="#065C3C"/>
<polygon points="136.72,1274.85 129.14,1279.22 129.14,1287.97 136.72,1292.35 144.30,1287.97 144.30,1279.22" fill="#065C3C"/>
<polygon points="137.08,1271.65 129.50,1276.03 129.50,1284.78 137.08,1289.15 144.66,1284.78 144.66,1276.03" fill="#065C3C"/>
<polygon points="137.44,1268.45 129.86,1272.83 129.86,1281.58 137.44,1285.95 145.02,1281.58 145.02,1272.83" fill="#065C3C"/>
<polygon points="137.80,1265.25 130.22,1269.62 130.22,1278.38 137.80,1282.75 145.38,1278.38 145.38,1269.62" fill="#065C3C"/>
<polygon points="138.28,1262.05 130.70,1266.42 130.70,1275.17 138.28,1279.55 145.86,1275.17 145.86,1266.42" fill="#065C3C"/>
<polygon points="138.76,1258.85 131.18,1263.22 131.18,1271.97 138.76,1276.35 146.34,1271.97 146.34,1263.22" fill="#065C3C"/>
<polygon points="139.24,1255.65 131.66,1260.03 131.66,1268.78 139.24,1273.15 146.82,1268.78 146.82,1260.03" fill="#065C3C"/>
<polygon points="139.72,1252.45 132.14,1256.83 132.14,1265.58 139.72,1269.95 147.30,1265.58 147.30,1256.83" fill="#065C3C"/>
<polygon points="140.20,1249.25 132.62,1253.62 132.62,1262.38 140.20,1266.75 147.78,1262.38 147.78,1253.62" fill="#065C3C"/>
<polygon points="140.90,1246.25 133.32,1250.62 133.32,1259.38 140.90,1263.75 148.48,1259.38 148.48,1250.62" fill="#065C3C"/>
<polygon points="141.60,1243.25 134.02,1247.62 134.02,1256.38 141.60,1260.75 149.18,1256.38 149.18,1247.62" fill="#065C3C"/>
<polygon points="142.30,1240.25 134.72,1244.62 134.72,1253.38 142.30,1257.75 149.88,1253.38 149.88,1244.62" fill="#065C3C"/>
<polygon points="143.00,1237.25 135.42,1241.62 135.42,1250.38 143.00,1254.75 150.58,1250.38 150.58,1241.62" fill="#065C3C"/>
<polygon points="143.83,1233.92 136.26,1238.29 136.26,1247.04 143.83,1251.42 151.41,1247.04 151.41,1238.29" fill="#065C3C"/>
<polygon points="144.67,1230.58 137.09,1234.96 137.09,1243.71 144.67,1248.08 152.24,1243.71 152.24,1234.96" fill="#065C3C"/>
<polygon points="145.50,1227.25 137.92,1231.62 137.92,1240.38 145.50,1244.75 153.08,1240.38 153.08,1231.62" fill="#065C3C"/>
<polygon points="146.30,1219.85 138.72,1224.22 138.72,1232.97 146.30,1237.35 153.88,1232.97 153.88,1224.22" fill="#065C3C"/>
<polygon points="151.50,1201.95 143.92,1206.33 143.92,1215.08 151.50,1219.45 159.08,1215.08 159.08,1206.33" fill="#065C3C"/>
<polygon points="158.20,1179.65 150.62,1184.03 150.62,1192.78 158.20,1197.15 165.78,1192.78 165.78,1184.03" fill="#065C3C"/>
<polygon points="168.70,1157.35 161.12,1161.72 161.12,1170.47 168.70,1174.85 176.28,1170.47 176.28,1161.72" fill="#065C3C"/>
<polygon points="183.50,1125.75 175.92,1130.12 175.92,1138.88 183.50,1143.25 191.08,1138.88 191.08,1130.12" fill="#065C3C"/>
<polygon points="203.00,1093.75 195.42,1098.12 195.42,1106.88 203.00,1111.25 210.58,1106.88 210.58,1098.12" fill="#065C3C"/>
<polygon points="227.80,1063.45 220.22,1067.83 220.22,1076.58 227.80,1080.95 235.38,1076.58 235.38,1067.83" fill="#065C3C"/>
<polygon points="260.40,1035.05 252.82,1039.42 252.82,1048.17 260.40,1052.55 267.98,1048.17 267.98,1039.42" fill="#065C3C"/>
<polygon points="301.50,1011.95 293.92,1016.33 293.92,1025.08 301.50,1029.45 309.08,1025.08 309.08,1016.33" fill="#065C3C"/>
<polygon points="345.40,999.45 337.82,1003.83 337.82,1012.58 345.40,1016.95 352.98,1012.58 352.98,1003.83" fill="#065C3C"/>
<polygon points="391.50,998.05 383.92,1002.42 383.92,1011.17 391.50,1015.55 399.08,1011.17 399.08,1002.42" fill="#065C3C"/>
<polygon points="436.20,1009.45 428.62,1013.83 428.62,1022.58 436.20,1026.95 443.78,1022.58 443.78,1013.83" fill="#065C3C"/>
<polygon points="476.80,1029.25 469.22,1033.62 469.22,1042.38 476.80,1046.75 484.38,1042.38 484.38,1033.62" fill="#065C3C"/>
<polygon points="509.90,1055.95 502.32,1060.33 502.32,1069.08 509.90,1073.45 517.48,1069.08 517.48,1060.33" fill="#065C3C"/>
<polygon points="536.50,1084.35 528.92,1088.72 528.92,1097.47 536.50,1101.85 544.08,1097.47 544.08,1088.72" fill="#065C3C"/>
<polygon points="556.90,1112.75 549.32,1117.12 549.32,1125.88 556.90,1130.25 564.48,1125.88 564.48,1117.12" fill="#065C3C"/>
<polygon points="571.10,1138.45 563.52,1142.83 563.52,1151.58 571.10,1155.95 578.68,1151.58 578.68,1142.83" fill="#065C3C"/>
<polygon points="584.00,1160.75 576.42,1165.12 576.42,1173.88 584.00,1178.25 591.58,1173.88 591.58,1165.12" fill="#065C3C"/>
<polygon points="593.60,1180.25 586.02,1184.62 586.02,1193.38 593.60,1197.75 601.18,1193.38 601.18,1184.62" fill="#065C3C"/>
<polygon points="599.50,1197.05 591.92,1201.42 591.92,1210.17 599.50,1214.55 607.08,1210.17 607.08,1201.42" fill="#065C3C"/>
<polygon points="602.25,1204.40 594.67,1208.78 594.67,1217.53 602.25,1221.90 609.83,1217.53 609.83,1208.78" fill="#065C3C"/>
<polygon points="605.00,1211.75 597.42,1216.12 597.42,1224.88 605.00,1229.25 612.58,1224.88 612.58,1216.12" fill="#065C3C"/>
<polygon points="609.30,1218.00 601.72,1222.38 601.72,1231.12 609.30,1235.50 616.88,1231.12 616.88,1222.38" fill="#065C3C"/>
<polygon points="613.60,1224.25 606.02,1228.62 606.02,1237.38 613.60,1241.75 621.18,1237.38 621.18,1228.62" fill="#065C3C"/>
<polygon points="618.80,1229.75 611.22,1234.12 611.22,1242.88 618.80,1247.25 626.38,1242.88 626.38,1234.12" fill="#065C3C"/>
<polygon points="624.00,1235.25 616.42,1239.62 616.42,1248.38 624.00,1252.75 631.58,1248.38 631.58,1239.62" fill="#065C3C"/>
<polygon points="628.63,1239.38 621.06,1243.76 621.06,1252.51 628.63,1256.88 636.21,1252.51 636.21,1243.76" fill="#065C3C"/>
<polygon points="633.27,1243.52 625.69,1247.89 625.69,1256.64 633.27,1261.02 640.84,1256.64 640.84,1247.89" fill="#065C3C"/>
<polygon points="637.90,1247.65 630.32,1252.03 630.32,1260.78 637.90,1265.15 645.48,1260.78 645.48,1252.03" fill="#065C3C"/>
<polygon points="644.40,1250.45 636.82,1254.83 636.82,1263.58 644.40,1267.95 651.98,1263.58 651.98,1254.83" fill="#065C3C"/>
<polygon points="650.90,1253.25 643.32,1257.62 643.32,1266.38 650.90,1270.75 658.48,1266.38 658.48,1257.62" fill="#065C3C"/>
<polygon points="653.70,1258.85 646.12,1263.22 646.12,1271.97 653.70,1276.35 661.28,1271.97 661.28,1263.22" fill="#065C3C"/>
<polygon points="656.50,1264.45 648.92,1268.83 648.92,1277.58 656.50,1281.95 664.08,1277.58 664.08,1268.83" fill="#065C3C"/>
<path d="M160.4,1174.9 L161.5,1172.6 M170.9,1152.6 L176.3,1141.0 M186.7,1121.6 L194.8,1108.4 M206.6,1089.9 L218.2,1072.8 M232.4,1056.3 L249.5,1040.6 M266.7,1027.0 L288.2,1012.4 M307.7,1002.7 L333.6,994.0 M354.9,989.4 L382.7,986.6 M404.5,987.2 L431.7,991.6 M452.8,997.3 L477.3,1007.0 M496.6,1017.2 L516.8,1031.0 M533.8,1044.9 L548.1,1058.8 M563.0,1075.0 L573.8,1088.1 M586.7,1105.9 L593.5,1116.6 M605.1,1135.3 L608.8,1141.3 M619.7,1160.4 L620.8,1162.3" fill="none" stroke="#0B5A62" stroke-width="3.1"/>
<polygon points="133.00,1291.81 135.65,1297.17 141.56,1298.03 137.28,1302.20 138.29,1308.09 133.00,1305.31 127.71,1308.09 128.72,1302.20 124.44,1298.03 130.35,1297.17" fill="#0B5A62"/>
<polygon points="133.25,1289.31 135.90,1294.67 141.81,1295.53 137.53,1299.70 138.54,1305.59 133.25,1302.81 127.96,1305.59 128.97,1299.70 124.69,1295.53 130.60,1294.67" fill="#0B5A62"/>
<polygon points="133.50,1286.81 136.15,1292.17 142.06,1293.03 137.78,1297.20 138.79,1303.09 133.50,1300.31 128.21,1303.09 129.22,1297.20 124.94,1293.03 130.85,1292.17" fill="#0B5A62"/>
<polygon points="133.75,1284.31 136.40,1289.67 142.31,1290.53 138.03,1294.70 139.04,1300.59 133.75,1297.81 128.46,1300.59 129.47,1294.70 125.19,1290.53 131.10,1289.67" fill="#0B5A62"/>
<polygon points="134.00,1281.81 136.65,1287.17 142.56,1288.03 138.28,1292.20 139.29,1298.09 134.00,1295.31 128.71,1298.09 129.72,1292.20 125.44,1288.03 131.35,1287.17" fill="#0B5A62"/>
<polygon points="134.30,1279.14 136.95,1284.50 142.86,1285.36 138.58,1289.53 139.59,1295.42 134.30,1292.64 129.01,1295.42 130.02,1289.53 125.74,1285.36 131.65,1284.50" fill="#0B5A62"/>
<polygon points="134.60,1276.48 137.25,1281.84 143.16,1282.70 138.88,1286.87 139.89,1292.76 134.60,1289.98 129.31,1292.76 130.32,1286.87 126.04,1282.70 131.95,1281.84" fill="#0B5A62"/>
<polygon points="134.90,1273.81 137.55,1279.17 143.46,1280.03 139.18,1284.20 140.19,1290.09 134.90,1287.31 129.61,1290.09 130.62,1284.20 126.34,1280.03 132.25,1279.17" fill="#0B5A62"/>
<polygon points="135.20,1271.14 137.85,1276.50 143.76,1277.36 139.48,1281.53 140.49,1287.42 135.20,1284.64 129.91,1287.42 130.92,1281.53 126.64,1277.36 132.55,1276.50" fill="#0B5A62"/>
<polygon points="135.50,1268.48 138.15,1273.84 144.06,1274.70 139.78,1278.87 140.79,1284.76 135.50,1281.98 130.21,1284.76 131.22,1278.87 126.94,1274.70 132.85,1273.84" fill="#0B5A62"/>
<polygon points="135.80,1265.81 138.45,1271.17 144.36,1272.03 140.08,1276.20 141.09,1282.09 135.80,1279.31 130.51,1282.09 131.52,1276.20 127.24,1272.03 133.15,1271.17" fill="#0B5A62"/>
<polygon points="136.20,1263.14 138.85,1268.50 144.76,1269.36 140.48,1273.53 141.49,1279.42 136.20,1276.64 130.91,1279.42 131.92,1273.53 127.64,1269.36 133.55,1268.50" fill="#0B5A62"/>
<polygon points="136.60,1260.48 139.25,1265.84 145.16,1266.70 140.88,1270.87 141.89,1276.76 136.60,1273.98 131.31,1276.76 132.32,1270.87 128.04,1266.70 133.95,1265.84" fill="#0B5A62"/>
<polygon points="137.00,1257.81 139.65,1263.17 145.56,1264.03 141.28,1268.20 142.29,1274.09 137.00,1271.31 131.71,1274.09 132.72,1268.20 128.44,1264.03 134.35,1263.17" fill="#0B5A62"/>
<polygon points="137.40,1255.14 140.05,1260.50 145.96,1261.36 141.68,1265.53 142.69,1271.42 137.40,1268.64 132.11,1271.42 133.12,1265.53 128.84,1261.36 134.75,1260.50" fill="#0B5A62"/>
<polygon points="137.80,1252.48 140.45,1257.84 146.36,1258.70 142.08,1262.87 143.09,1268.76 137.80,1265.98 132.51,1268.76 133.52,1262.87 129.24,1258.70 135.15,1257.84" fill="#0B5A62"/>
<polygon points="138.20,1249.81 140.85,1255.17 146.76,1256.03 142.48,1260.20 143.49,1266.09 138.20,1263.31 132.91,1266.09 133.92,1260.20 129.64,1256.03 135.55,1255.17" fill="#0B5A62"/>
<polygon points="138.76,1247.41 141.41,1252.77 147.32,1253.63 143.04,1257.80 144.05,1263.69 138.76,1260.91 133.47,1263.69 134.48,1257.80 130.20,1253.63 136.11,1252.77" fill="#0B5A62"/>
<polygon points="139.32,1245.01 141.97,1250.37 147.88,1251.23 143.60,1255.40 144.61,1261.29 139.32,1258.51 134.03,1261.29 135.04,1255.40 130.76,1251.23 136.67,1250.37" fill="#0B5A62"/>
<polygon points="139.88,1242.61 142.53,1247.97 148.44,1248.83 144.16,1253.00 145.17,1258.89 139.88,1256.11 134.59,1258.89 135.60,1253.00 131.32,1248.83 137.23,1247.97" fill="#0B5A62"/>
<polygon points="140.44,1240.21 143.09,1245.57 149.00,1246.43 144.72,1250.60 145.73,1256.49 140.44,1253.71 135.15,1256.49 136.16,1250.60 131.88,1246.43 137.79,1245.57" fill="#0B5A62"/>
<polygon points="141.00,1237.81 143.65,1243.17 149.56,1244.03 145.28,1248.20 146.29,1254.09 141.00,1251.31 135.71,1254.09 136.72,1248.20 132.44,1244.03 138.35,1243.17" fill="#0B5A62"/>
<polygon points="141.62,1235.31 144.27,1240.67 150.18,1241.53 145.90,1245.70 146.92,1251.59 141.62,1248.81 136.33,1251.59 137.35,1245.70 133.07,1241.53 138.98,1240.67" fill="#0B5A62"/>
<polygon points="142.25,1232.81 144.90,1238.17 150.81,1239.03 146.53,1243.20 147.54,1249.09 142.25,1246.31 136.96,1249.09 137.97,1243.20 133.69,1239.03 139.60,1238.17" fill="#0B5A62"/>
<polygon points="142.88,1230.31 145.52,1235.67 151.43,1236.53 147.15,1240.70 148.17,1246.59 142.88,1243.81 137.58,1246.59 138.60,1240.70 134.32,1236.53 140.23,1235.67" fill="#0B5A62"/>
<polygon points="143.50,1227.81 146.15,1233.17 152.06,1234.03 147.78,1238.20 148.79,1244.09 143.50,1241.31 138.21,1244.09 139.22,1238.20 134.94,1234.03 140.85,1233.17" fill="#0B5A62"/>
<polygon points="143.80,1216.91 146.45,1222.27 152.36,1223.13 148.08,1227.30 149.09,1233.19 143.80,1230.41 138.51,1233.19 139.52,1227.30 135.24,1223.13 141.15,1222.27" fill="#0B5A62"/>
<polygon points="149.00,1199.01 151.65,1204.37 157.56,1205.23 153.28,1209.40 154.29,1215.29 149.00,1212.51 143.71,1215.29 144.72,1209.40 140.44,1205.23 146.35,1204.37" fill="#0B5A62"/>
<polygon points="155.70,1176.71 158.35,1182.07 164.26,1182.93 159.98,1187.10 160.99,1192.99 155.70,1190.21 150.41,1192.99 151.42,1187.10 147.14,1182.93 153.05,1182.07" fill="#0B5A62"/>
<polygon points="166.20,1154.41 168.85,1159.77 174.76,1160.63 170.48,1164.80 171.49,1170.69 166.20,1167.91 160.91,1170.69 161.92,1164.80 157.64,1160.63 163.55,1159.77" fill="#0B5A62"/>
<polygon points="181.00,1122.81 183.65,1128.17 189.56,1129.03 185.28,1133.20 186.29,1139.09 181.00,1136.31 175.71,1139.09 176.72,1133.20 172.44,1129.03 178.35,1128.17" fill="#0B5A62"/>
<polygon points="200.50,1090.81 203.15,1096.17 209.06,1097.03 204.78,1101.20 205.79,1107.09 200.50,1104.31 195.21,1107.09 196.22,1101.20 191.94,1097.03 197.85,1096.17" fill="#0B5A62"/>
<polygon points="224.30,1055.51 226.95,1060.87 232.86,1061.73 228.58,1065.90 229.59,1071.79 224.30,1069.01 219.01,1071.79 220.02,1065.90 215.74,1061.73 221.65,1060.87" fill="#0B5A62"/>
<polygon points="257.60,1025.01 260.25,1030.37 266.16,1031.23 261.88,1035.40 262.89,1041.29 257.60,1038.51 252.31,1041.29 253.32,1035.40 249.04,1031.23 254.95,1030.37" fill="#0B5A62"/>
<polygon points="297.30,998.01 299.95,1003.37 305.86,1004.23 301.58,1008.40 302.59,1014.29 297.30,1011.51 292.01,1014.29 293.02,1008.40 288.74,1004.23 294.65,1003.37" fill="#0B5A62"/>
<polygon points="344.00,982.31 346.65,987.67 352.56,988.53 348.28,992.70 349.29,998.59 344.00,995.81 338.71,998.59 339.72,992.70 335.44,988.53 341.35,987.67" fill="#0B5A62"/>
<polygon points="393.60,977.31 396.25,982.67 402.16,983.53 397.88,987.70 398.89,993.59 393.60,990.81 388.31,993.59 389.32,987.70 385.04,983.53 390.95,982.67" fill="#0B5A62"/>
<polygon points="442.60,985.11 445.25,990.47 451.16,991.33 446.88,995.50 447.89,1001.39 442.60,998.61 437.31,1001.39 438.32,995.50 434.04,991.33 439.95,990.47" fill="#0B5A62"/>
<polygon points="487.50,1002.81 490.15,1008.17 496.06,1009.03 491.78,1013.20 492.79,1019.09 487.50,1016.31 482.21,1019.09 483.22,1013.20 478.94,1009.03 484.85,1008.17" fill="#0B5A62"/>
<polygon points="525.90,1029.01 528.55,1034.37 534.46,1035.23 530.18,1039.40 531.19,1045.29 525.90,1042.51 520.61,1045.29 521.62,1039.40 517.34,1035.23 523.25,1034.37" fill="#0B5A62"/>
<polygon points="556.00,1058.31 558.65,1063.67 564.56,1064.53 560.28,1068.70 561.29,1074.59 556.00,1071.81 550.71,1074.59 551.72,1068.70 547.44,1064.53 553.35,1063.67" fill="#0B5A62"/>
<polygon points="580.80,1088.41 583.45,1093.77 589.36,1094.63 585.08,1098.80 586.09,1104.69 580.80,1101.91 575.51,1104.69 576.52,1098.80 572.24,1094.63 578.15,1093.77" fill="#0B5A62"/>
<polygon points="599.40,1117.71 602.05,1123.07 607.96,1123.93 603.68,1128.10 604.69,1133.99 599.40,1131.21 594.11,1133.99 595.12,1128.10 590.84,1123.93 596.75,1123.07" fill="#0B5A62"/>
<polygon points="614.50,1142.51 617.15,1147.87 623.06,1148.73 618.78,1152.90 619.79,1158.79 614.50,1156.01 609.21,1158.79 610.22,1152.90 605.94,1148.73 611.85,1147.87" fill="#0B5A62"/>
<polygon points="626.00,1163.81 628.65,1169.17 634.56,1170.03 630.28,1174.20 631.29,1180.09 626.00,1177.31 620.71,1180.09 621.72,1174.20 617.44,1170.03 623.35,1169.17" fill="#0B5A62"/>
<polygon points="628.67,1170.01 631.31,1175.37 637.23,1176.23 632.95,1180.40 633.96,1186.29 628.67,1183.51 623.38,1186.29 624.39,1180.40 620.11,1176.23 626.02,1175.37" fill="#0B5A62"/>
<polygon points="631.33,1176.21 633.98,1181.57 639.89,1182.43 635.61,1186.60 636.62,1192.49 631.33,1189.71 626.04,1192.49 627.05,1186.60 622.77,1182.43 628.69,1181.57" fill="#0B5A62"/>
<polygon points="634.00,1182.41 636.65,1187.77 642.56,1188.63 638.28,1192.80 639.29,1198.69 634.00,1195.91 628.71,1198.69 629.72,1192.80 625.44,1188.63 631.35,1187.77" fill="#0B5A62"/>
<polygon points="638.00,1189.96 640.65,1195.32 646.56,1196.18 642.28,1200.35 643.29,1206.24 638.00,1203.46 632.71,1206.24 633.72,1200.35 629.44,1196.18 635.35,1195.32" fill="#0B5A62"/>
<polygon points="642.00,1197.51 644.65,1202.87 650.56,1203.73 646.28,1207.90 647.29,1213.79 642.00,1211.01 636.71,1213.79 637.72,1207.90 633.44,1203.73 639.35,1202.87" fill="#0B5A62"/>
<polygon points="646.45,1203.66 649.10,1209.02 655.01,1209.88 650.73,1214.05 651.74,1219.94 646.45,1217.16 641.16,1219.94 642.17,1214.05 637.89,1209.88 643.80,1209.02" fill="#0B5A62"/>
<polygon points="650.90,1209.81 653.55,1215.17 659.46,1216.03 655.18,1220.20 656.19,1226.09 650.90,1223.31 645.61,1226.09 646.62,1220.20 642.34,1216.03 648.25,1215.17" fill="#0B5A62"/>
<polygon points="655.30,1215.16 657.95,1220.52 663.86,1221.38 659.58,1225.55 660.59,1231.44 655.30,1228.66 650.01,1231.44 651.02,1225.55 646.74,1221.38 652.65,1220.52" fill="#0B5A62"/>
<polygon points="659.70,1220.51 662.35,1225.87 668.26,1226.73 663.98,1230.90 664.99,1236.79 659.70,1234.01 654.41,1236.79 655.42,1230.90 651.14,1226.73 657.05,1225.87" fill="#0B5A62"/>
<polygon points="664.65,1226.91 667.30,1232.27 673.21,1233.13 668.93,1237.30 669.94,1243.19 664.65,1240.41 659.36,1243.19 660.37,1237.30 656.09,1233.13 662.00,1232.27" fill="#0B5A62"/>
<polygon points="669.60,1233.31 672.25,1238.67 678.16,1239.53 673.88,1243.70 674.89,1249.59 669.60,1246.81 664.31,1249.59 665.32,1243.70 661.04,1239.53 666.95,1238.67" fill="#0B5A62"/>
<polygon points="676.15,1237.96 678.80,1243.32 684.71,1244.18 680.43,1248.35 681.44,1254.24 676.15,1251.46 670.86,1254.24 671.87,1248.35 667.59,1244.18 673.50,1243.32" fill="#0B5A62"/>
<polygon points="682.70,1242.61 685.35,1247.97 691.26,1248.83 686.98,1253.00 687.99,1258.89 682.70,1256.11 677.41,1258.89 678.42,1253.00 674.14,1248.83 680.05,1247.97" fill="#0B5A62"/>
<polygon points="688.30,1247.26 690.95,1252.62 696.86,1253.48 692.58,1257.65 693.59,1263.54 688.30,1260.76 683.01,1263.54 684.02,1257.65 679.74,1253.48 685.65,1252.62" fill="#0B5A62"/>
<polygon points="693.90,1251.91 696.55,1257.27 702.46,1258.13 698.18,1262.30 699.19,1268.19 693.90,1265.41 688.61,1268.19 689.62,1262.30 685.34,1258.13 691.25,1257.27" fill="#0B5A62"/>
<polygon points="698.55,1255.66 701.20,1261.02 707.11,1261.88 702.83,1266.05 703.84,1271.94 698.55,1269.16 693.26,1271.94 694.27,1266.05 689.99,1261.88 695.90,1261.02" fill="#0B5A62"/>
<polygon points="703.20,1259.41 705.85,1264.77 711.76,1265.63 707.48,1269.80 708.49,1275.69 703.20,1272.91 697.91,1275.69 698.92,1269.80 694.64,1265.63 700.55,1264.77" fill="#0B5A62"/>
<ellipse cx="638.36" cy="128.76" rx="4.65" ry="4.04" fill="#000"/>
<path d="M634.59,136.67 L642.31,136.67 L642.31,166.39 Q642.31,176.58 631.87,176.58 L628.80,176.58 L628.80,170.27 L630.99,170.27 Q634.59,170.27 634.59,165.55 Z" fill="#000"/>
<text x="620.25" y="383.26" font-family='"Liberation Sans", sans-serif' font-weight="bold" font-style="normal" font-size="55.31" textLength="27.43" lengthAdjust="spacingAndGlyphs" fill="#000" >a</text>
<polygon points="633.5,186.8 641.8,202.5 625.2,202.5" fill="#000"/>
<polygon points="631.2,202 635.8,202 637.3,343 632.7,343" fill="#000"/>
<ellipse cx="678.40" cy="916.30" rx="5.30" ry="4.80" fill="#000"/>
<path d="M674.10,925.70 L682.90,925.70 L682.90,961.00 Q682.90,973.10 671.00,973.10 L667.50,973.10 L667.50,965.60 L670.00,965.60 Q674.10,965.60 674.10,960.00 Z" fill="#000"/>
<text x="663.42" y="1185.57" font-family='"Liberation Sans", sans-serif' font-weight="bold" font-style="normal" font-size="64.25" textLength="30.04" lengthAdjust="spacingAndGlyphs" fill="#000" >a</text>
<polygon points="678.5,987.2 687,1004.5 670,1004.5" fill="#000"/>
<polygon points="676.2,1004 680.8,1004 683.3,1135 678.7,1135" fill="#000"/>
<text transform="rotate(-90)" x="-438.04" y="36.50" font-family='"Liberation Serif", serif' font-weight="normal" font-style="normal" font-size="48.19" textLength="23.15" lengthAdjust="spacingAndGlyphs" fill="#000" stroke="#000" stroke-width="0.8">−</text>
<text transform="rotate(-90)" x="-414.81" y="31.30" font-family='"Liberation Serif", serif' font-weight="normal" font-style="italic" font-size="40.93" textLength="23.16" lengthAdjust="spacingAndGlyphs" fill="#000" stroke="#000" stroke-width="0.8">Z</text>
<text transform="rotate(-90)" x="-386.81" y="35.67" font-family='"Liberation Serif", serif' font-weight="normal" font-style="normal" font-size="46.84" textLength="13.92" lengthAdjust="spacingAndGlyphs" fill="#000" stroke="#000" stroke-width="0.8">″</text>
<text transform="rotate(-90)" x="-367.99" y="31.91" font-family='"Liberation Serif", serif' font-weight="normal" font-style="normal" font-size="42.24" textLength="16.60" lengthAdjust="spacingAndGlyphs" fill="#000" stroke="#000" stroke-width="0.8">(</text>
<text transform="rotate(-90)" x="-352.42" y="31.30" font-family='"Liberation Serif", serif' font-weight="normal" font-style="normal" font-size="42.05" textLength="19.04" lengthAdjust="spacingAndGlyphs" fill="#000" stroke="#000" stroke-width="0.8">κ</text>
<text transform="rotate(-90)" x="-332.37" y="31.30" font-family='"Liberation Serif", serif' font-weight="normal" font-style="normal" font-size="41.53" textLength="34.04" lengthAdjust="spacingAndGlyphs" fill="#000" stroke="#000" stroke-width="0.8">Ω</text>
<text transform="rotate(-90)" x="-301.01" y="31.91" font-family='"Liberation Serif", serif' font-weight="normal" font-style="normal" font-size="42.24" textLength="16.60" lengthAdjust="spacingAndGlyphs" fill="#000" stroke="#000" stroke-width="0.8">)</text>
<text transform="rotate(-90)" x="-1140.99" y="53.50" font-family='"Liberation Serif", serif' font-weight="normal" font-style="normal" font-size="48.19" textLength="27.03" lengthAdjust="spacingAndGlyphs" fill="#000" stroke="#000" stroke-width="0.8">−</text>
<text transform="rotate(-90)" x="-1113.89" y="48.60" font-family='"Liberation Serif", serif' font-weight="normal" font-style="italic" font-size="42.00" textLength="22.36" lengthAdjust="spacingAndGlyphs" fill="#000" stroke="#000" stroke-width="0.8">Z</text>
<text transform="rotate(-90)" x="-1086.57" y="52.05" font-family='"Liberation Serif", serif' font-weight="normal" font-style="normal" font-size="47.26" textLength="18.25" lengthAdjust="spacingAndGlyphs" fill="#000" stroke="#000" stroke-width="0.8">″</text>
<text transform="rotate(-90)" x="-1067.90" y="49.06" font-family='"Liberation Serif", serif' font-weight="normal" font-style="normal" font-size="33.53" textLength="14.39" lengthAdjust="spacingAndGlyphs" fill="#000" stroke="#000" stroke-width="0.8">(</text>
<text transform="rotate(-90)" x="-1055.66" y="48.60" font-family='"Liberation Serif", serif' font-weight="normal" font-style="normal" font-size="39.43" textLength="20.00" lengthAdjust="spacingAndGlyphs" fill="#000" stroke="#000" stroke-width="0.8">κ</text>
<text transform="rotate(-90)" x="-1035.07" y="48.60" font-family='"Liberation Serif", serif' font-weight="normal" font-style="normal" font-size="42.44" textLength="34.04" lengthAdjust="spacingAndGlyphs" fill="#000" stroke="#000" stroke-width="0.8">Ω</text>
<text transform="rotate(-90)" x="-1003.06" y="49.06" font-family='"Liberation Serif", serif' font-weight="normal" font-style="normal" font-size="33.53" textLength="15.04" lengthAdjust="spacingAndGlyphs" fill="#000" stroke="#000" stroke-width="0.8">)</text>
<text x="347.57" y="708.70" font-family='"Liberation Serif", serif' font-weight="normal" font-style="italic" font-size="40.78" textLength="24.17" lengthAdjust="spacingAndGlyphs" fill="#000" stroke="#000" stroke-width="0.8">Z</text>
<text x="370.17" y="713.62" font-family='"Liberation Serif", serif' font-weight="normal" font-style="normal" font-size="49.82" textLength="15.66" lengthAdjust="spacingAndGlyphs" fill="#000" stroke="#000" stroke-width="0.8">′</text>
<text x="383.41" y="708.56" font-family='"Liberation Serif", serif' font-weight="normal" font-style="normal" font-size="40.59" textLength="15.82" lengthAdjust="spacingAndGlyphs" fill="#000" stroke="#000" stroke-width="0.8">(</text>
<text x="398.50" y="708.70" font-family='"Liberation Serif", serif' font-weight="normal" font-style="normal" font-size="39.65" textLength="21.07" lengthAdjust="spacingAndGlyphs" fill="#000" stroke="#000" stroke-width="0.8">κ</text>
<text x="419.80" y="708.70" font-family='"Liberation Serif", serif' font-weight="normal" font-style="normal" font-size="41.84" textLength="35.90" lengthAdjust="spacingAndGlyphs" fill="#000" stroke="#000" stroke-width="0.8">Ω</text>
<text x="452.77" y="708.56" font-family='"Liberation Serif", serif' font-weight="normal" font-style="normal" font-size="40.59" textLength="15.82" lengthAdjust="spacingAndGlyphs" fill="#000" stroke="#000" stroke-width="0.8">)</text>
<text x="363.73" y="1398.10" font-family='"Liberation Serif", serif' font-weight="normal" font-style="italic" font-size="43.68" textLength="25.78" lengthAdjust="spacingAndGlyphs" fill="#000" stroke="#000" stroke-width="0.8">Z</text>
<text x="390.73" y="1399.92" font-family='"Liberation Serif", serif' font-weight="normal" font-style="normal" font-size="47.69" textLength="11.84" lengthAdjust="spacingAndGlyphs" fill="#000" stroke="#000" stroke-width="0.8">′</text>
<text x="401.19" y="1398.08" font-family='"Liberation Serif", serif' font-weight="normal" font-style="normal" font-size="32.98" textLength="12.97" lengthAdjust="spacingAndGlyphs" fill="#000" stroke="#000" stroke-width="0.8">(</text>
<text x="413.34" y="1398.10" font-family='"Liberation Serif", serif' font-weight="normal" font-style="normal" font-size="42.49" textLength="22.67" lengthAdjust="spacingAndGlyphs" fill="#000" stroke="#000" stroke-width="0.8">κ</text>
<text x="435.08" y="1398.10" font-family='"Liberation Serif", serif' font-weight="normal" font-style="normal" font-size="44.40" textLength="36.25" lengthAdjust="spacingAndGlyphs" fill="#000" stroke="#000" stroke-width="0.8">Ω</text>
<text x="468.70" y="1398.08" font-family='"Liberation Serif", serif' font-weight="normal" font-style="normal" font-size="32.98" textLength="13.48" lengthAdjust="spacingAndGlyphs" fill="#000" stroke="#000" stroke-width="0.8">)</text>
<text x="987.70" y="689.11" font-family='"Liberation Sans", sans-serif' font-weight="bold" font-style="normal" font-size="41.96" textLength="350.41" lengthAdjust="spacingAndGlyphs" fill="#000" >log [PSA(ng/mL)]</text>
<text x="991.98" y="1390.06" font-family='"Liberation Sans", sans-serif' font-weight="bold" font-style="normal" font-size="42.18" textLength="365.25" lengthAdjust="spacingAndGlyphs" fill="#000" >log [PSA (ng/mL)]</text>
<line x1="906.9" y1="590.0" x2="1483.0" y2="177.4" stroke="#E8141C" stroke-width="3.2"/>
<line x1="907.60" y1="568.50" x2="907.60" y2="575.50" stroke="#000" stroke-width="2.2"/>
<line x1="899.85" y1="568.50" x2="915.35" y2="568.50" stroke="#000" stroke-width="2.6"/>
<line x1="899.85" y1="575.50" x2="915.35" y2="575.50" stroke="#000" stroke-width="2.6"/>
<rect x="900.85" y="565.25" width="13.50" height="13.50" fill="#000"/>
<line x1="1052.80" y1="519.30" x2="1052.80" y2="526.30" stroke="#000" stroke-width="2.2"/>
<line x1="1045.05" y1="519.30" x2="1060.55" y2="519.30" stroke="#000" stroke-width="2.6"/>
<line x1="1045.05" y1="526.30" x2="1060.55" y2="526.30" stroke="#000" stroke-width="2.6"/>
<rect x="1046.05" y="516.05" width="13.50" height="13.50" fill="#000"/>
<line x1="1119.80" y1="463.40" x2="1119.80" y2="471.40" stroke="#000" stroke-width="2.2"/>
<line x1="1112.05" y1="463.40" x2="1127.55" y2="463.40" stroke="#000" stroke-width="2.6"/>
<line x1="1112.05" y1="471.40" x2="1127.55" y2="471.40" stroke="#000" stroke-width="2.6"/>
<rect x="1113.05" y="460.65" width="13.50" height="13.50" fill="#000"/>
<line x1="1163.30" y1="379.30" x2="1163.30" y2="401.30" stroke="#000" stroke-width="2.2"/>
<line x1="1155.55" y1="379.30" x2="1171.05" y2="379.30" stroke="#000" stroke-width="2.6"/>
<line x1="1155.55" y1="401.30" x2="1171.05" y2="401.30" stroke="#000" stroke-width="2.6"/>
<rect x="1156.55" y="383.25" width="13.50" height="13.50" fill="#000"/>
<line x1="1197.00" y1="337.30" x2="1197.00" y2="361.30" stroke="#000" stroke-width="2.2"/>
<line x1="1189.25" y1="337.30" x2="1204.75" y2="337.30" stroke="#000" stroke-width="2.6"/>
<line x1="1189.25" y1="361.30" x2="1204.75" y2="361.30" stroke="#000" stroke-width="2.6"/>
<rect x="1190.25" y="342.55" width="13.50" height="13.50" fill="#000"/>
<line x1="1295.30" y1="272.00" x2="1295.30" y2="300.00" stroke="#000" stroke-width="2.2"/>
<line x1="1287.55" y1="272.00" x2="1303.05" y2="272.00" stroke="#000" stroke-width="2.6"/>
<line x1="1287.55" y1="300.00" x2="1303.05" y2="300.00" stroke="#000" stroke-width="2.6"/>
<rect x="1288.55" y="278.55" width="13.50" height="13.50" fill="#000"/>
<line x1="1389.40" y1="220.70" x2="1389.40" y2="251.20" stroke="#000" stroke-width="2.2"/>
<line x1="1381.65" y1="220.70" x2="1397.15" y2="220.70" stroke="#000" stroke-width="2.6"/>
<line x1="1381.65" y1="251.20" x2="1397.15" y2="251.20" stroke="#000" stroke-width="2.6"/>
<rect x="1382.65" y="228.15" width="13.50" height="13.50" fill="#000"/>
<line x1="1444.00" y1="186.00" x2="1444.00" y2="218.60" stroke="#000" stroke-width="2.2"/>
<line x1="1436.25" y1="186.00" x2="1451.75" y2="186.00" stroke="#000" stroke-width="2.6"/>
<line x1="1436.25" y1="218.60" x2="1451.75" y2="218.60" stroke="#000" stroke-width="2.6"/>
<rect x="1437.25" y="195.55" width="13.50" height="13.50" fill="#000"/>
<line x1="1482.30" y1="142.70" x2="1482.30" y2="177.40" stroke="#000" stroke-width="2.2"/>
<line x1="1474.55" y1="142.70" x2="1490.05" y2="142.70" stroke="#000" stroke-width="2.6"/>
<line x1="1474.55" y1="177.40" x2="1490.05" y2="177.40" stroke="#000" stroke-width="2.6"/>
<rect x="1475.55" y="152.25" width="13.50" height="13.50" fill="#000"/>
<line x1="915.4" y1="1226.0" x2="1476.6" y2="856.7" stroke="#E8141C" stroke-width="2.9"/>
<line x1="915.40" y1="1221.50" x2="915.40" y2="1238.00" stroke="#000" stroke-width="2.2"/>
<line x1="906.15" y1="1221.50" x2="924.65" y2="1221.50" stroke="#000" stroke-width="2.6"/>
<line x1="906.15" y1="1238.00" x2="924.65" y2="1238.00" stroke="#000" stroke-width="2.6"/>
<rect x="906.65" y="1221.05" width="17.50" height="17.50" fill="#000"/>
<line x1="1003.60" y1="1160.50" x2="1003.60" y2="1177.50" stroke="#000" stroke-width="2.2"/>
<line x1="994.35" y1="1160.50" x2="1012.85" y2="1160.50" stroke="#000" stroke-width="2.6"/>
<line x1="994.35" y1="1177.50" x2="1012.85" y2="1177.50" stroke="#000" stroke-width="2.6"/>
<rect x="994.85" y="1160.25" width="17.50" height="17.50" fill="#000"/>
<line x1="1061.00" y1="1089.50" x2="1061.00" y2="1106.50" stroke="#000" stroke-width="2.2"/>
<line x1="1051.75" y1="1089.50" x2="1070.25" y2="1089.50" stroke="#000" stroke-width="2.6"/>
<line x1="1051.75" y1="1106.50" x2="1070.25" y2="1106.50" stroke="#000" stroke-width="2.6"/>
<rect x="1052.25" y="1089.25" width="17.50" height="17.50" fill="#000"/>
<line x1="1104.00" y1="1067.50" x2="1104.00" y2="1084.50" stroke="#000" stroke-width="2.2"/>
<line x1="1094.75" y1="1067.50" x2="1113.25" y2="1067.50" stroke="#000" stroke-width="2.6"/>
<line x1="1094.75" y1="1084.50" x2="1113.25" y2="1084.50" stroke="#000" stroke-width="2.6"/>
<rect x="1095.25" y="1067.25" width="17.50" height="17.50" fill="#000"/>
<line x1="1232.00" y1="1019.50" x2="1232.00" y2="1036.50" stroke="#000" stroke-width="2.2"/>
<line x1="1222.75" y1="1019.50" x2="1241.25" y2="1019.50" stroke="#000" stroke-width="2.6"/>
<line x1="1222.75" y1="1036.50" x2="1241.25" y2="1036.50" stroke="#000" stroke-width="2.6"/>
<rect x="1223.25" y="1019.25" width="17.50" height="17.50" fill="#000"/>
<line x1="1354.60" y1="946.50" x2="1354.60" y2="968.00" stroke="#000" stroke-width="2.2"/>
<line x1="1345.35" y1="946.50" x2="1363.85" y2="946.50" stroke="#000" stroke-width="2.6"/>
<line x1="1345.35" y1="968.00" x2="1363.85" y2="968.00" stroke="#000" stroke-width="2.6"/>
<rect x="1345.85" y="947.95" width="17.50" height="17.50" fill="#000"/>
<line x1="1425.50" y1="905.00" x2="1425.50" y2="929.00" stroke="#000" stroke-width="2.2"/>
<line x1="1416.25" y1="905.00" x2="1434.75" y2="905.00" stroke="#000" stroke-width="2.6"/>
<line x1="1416.25" y1="929.00" x2="1434.75" y2="929.00" stroke="#000" stroke-width="2.6"/>
<rect x="1416.75" y="908.25" width="17.50" height="17.50" fill="#000"/>
<line x1="1475.90" y1="837.60" x2="1475.90" y2="865.20" stroke="#000" stroke-width="2.2"/>
<line x1="1466.65" y1="837.60" x2="1485.15" y2="837.60" stroke="#000" stroke-width="2.6"/>
<line x1="1466.65" y1="865.20" x2="1485.15" y2="865.20" stroke="#000" stroke-width="2.6"/>
<rect x="1467.15" y="842.25" width="17.50" height="17.50" fill="#000"/>
<text x="885.65" y="165.00" font-family='"Liberation Sans", sans-serif' font-weight="bold" font-style="normal" font-size="26.60" textLength="129.38" lengthAdjust="spacingAndGlyphs" fill="#000" >Sensitivity</text>
<text x="1023.04" y="165.00" font-family='"Liberation Sans", sans-serif' font-weight="bold" font-style="normal" font-size="26.60" textLength="13.51" lengthAdjust="spacingAndGlyphs" fill="#000" >=</text>
<text x="1054.23" y="165.00" font-family='"Liberation Sans", sans-serif' font-weight="bold" font-style="normal" font-size="26.60" textLength="27.66" lengthAdjust="spacingAndGlyphs" fill="#000" >35</text>
<text stroke="#000" stroke-width="0.6" x="1091.16" y="165.20" font-family='"Liberation Serif", serif' font-weight="normal" font-style="normal" font-size="28.60" textLength="35.62" lengthAdjust="spacingAndGlyphs" fill="#000" >κΩ</text>
<text x="1132.69" y="165.00" font-family='"Liberation Sans", sans-serif' font-weight="bold" font-style="normal" font-size="26.60" textLength="31.75" lengthAdjust="spacingAndGlyphs" fill="#000" >ng</text>
<text x="1171.54" y="165.00" font-family='"Liberation Sans", sans-serif' font-weight="bold" font-style="normal" font-size="26.60" textLength="39.98" lengthAdjust="spacingAndGlyphs" fill="#000" >mL</text>
<text x="1211.89" y="155.10" font-family='"Liberation Sans", sans-serif' font-weight="bold" font-style="normal" font-size="24.00" textLength="7.74" lengthAdjust="spacingAndGlyphs" fill="#000" >-</text>
<text x="1221.74" y="155.10" font-family='"Liberation Sans", sans-serif' font-weight="bold" font-style="normal" font-size="24.00" textLength="10.28" lengthAdjust="spacingAndGlyphs" fill="#000" >1</text>
<text x="885.14" y="198.50" font-family='"Liberation Sans", sans-serif' font-weight="bold" font-style="normal" font-size="26.60" textLength="223.27" lengthAdjust="spacingAndGlyphs" fill="#000" >LOD = 0.14 ng/mL</text>
<text x="885.15" y="241.70" font-family='"Liberation Sans", sans-serif' font-weight="bold" font-style="normal" font-size="26.60" textLength="18.89" lengthAdjust="spacingAndGlyphs" fill="#000" >R</text>
<text x="905.29" y="232.10" font-family='"Liberation Sans", sans-serif' font-weight="bold" font-style="normal" font-size="24.80" textLength="12.94" lengthAdjust="spacingAndGlyphs" fill="#000" >2</text>
<text x="925.81" y="241.70" font-family='"Liberation Sans", sans-serif' font-weight="bold" font-style="normal" font-size="26.60" textLength="88.57" lengthAdjust="spacingAndGlyphs" fill="#000" >= 0.980</text>
<text x="872.87" y="851.70" font-family='"Liberation Sans", sans-serif' font-weight="bold" font-style="normal" font-size="22.50" textLength="109.55" lengthAdjust="spacingAndGlyphs" fill="#000" >Sensitivity</text>
<text x="989.87" y="851.70" font-family='"Liberation Sans", sans-serif' font-weight="bold" font-style="normal" font-size="22.50" textLength="13.04" lengthAdjust="spacingAndGlyphs" fill="#000" >=</text>
<text x="1015.22" y="851.70" font-family='"Liberation Sans", sans-serif' font-weight="bold" font-style="normal" font-size="22.50" textLength="56.29" lengthAdjust="spacingAndGlyphs" fill="#000" >25.66</text>
<text x="1077.17" y="851.70" font-family='"Liberation Sans", sans-serif' font-weight="bold" font-style="normal" font-size="22.50" textLength="29.71" lengthAdjust="spacingAndGlyphs" fill="#000" >kΩ</text>
<text x="1112.50" y="851.70" font-family='"Liberation Sans", sans-serif' font-weight="bold" font-style="normal" font-size="22.50" textLength="27.71" lengthAdjust="spacingAndGlyphs" fill="#000" >ng</text>
<text x="1146.56" y="851.70" font-family='"Liberation Sans", sans-serif' font-weight="bold" font-style="normal" font-size="22.50" textLength="32.82" lengthAdjust="spacingAndGlyphs" fill="#000" >mL</text>
<text x="1181.31" y="841.70" font-family='"Liberation Sans", sans-serif' font-weight="bold" font-style="normal" font-size="17.00" textLength="5.90" lengthAdjust="spacingAndGlyphs" fill="#000" >-</text>
<text x="1188.39" y="841.70" font-family='"Liberation Sans", sans-serif' font-weight="bold" font-style="normal" font-size="17.00" textLength="8.01" lengthAdjust="spacingAndGlyphs" fill="#000" >1</text>
<text x="872.51" y="885.30" font-family='"Liberation Sans", sans-serif' font-weight="bold" font-style="normal" font-size="22.50" textLength="188.57" lengthAdjust="spacingAndGlyphs" fill="#000" >LOD = 0.42 ng/mL</text>
<text x="872.47" y="917.80" font-family='"Liberation Sans", sans-serif' font-weight="bold" font-style="normal" font-size="22.50" textLength="16.50" lengthAdjust="spacingAndGlyphs" fill="#000" >R</text>
<text x="889.62" y="906.60" font-family='"Liberation Sans", sans-serif' font-weight="bold" font-style="normal" font-size="10.00" textLength="6.12" lengthAdjust="spacingAndGlyphs" fill="#000" >2</text>
<text x="901.88" y="917.80" font-family='"Liberation Sans", sans-serif' font-weight="bold" font-style="normal" font-size="22.50" textLength="74.94" lengthAdjust="spacingAndGlyphs" fill="#000" >= 0.980</text>
<text transform="rotate(-90)" x="-462.62" y="788.20" font-family='"Liberation Sans", sans-serif' font-weight="normal" font-style="normal" font-size="43.02" textLength="27.47" lengthAdjust="spacingAndGlyphs" fill="#000" >Δ</text>
<text transform="rotate(-90)" x="-435.57" y="788.20" font-family='"Liberation Sans", sans-serif' font-weight="bold" font-style="normal" font-size="45.35" textLength="28.78" lengthAdjust="spacingAndGlyphs" fill="#000" >R</text>
<text transform="rotate(-90)" x="-404.14" y="803.45" font-family='"Liberation Sans", sans-serif' font-weight="bold" font-style="normal" font-size="46.06" textLength="37.25" lengthAdjust="spacingAndGlyphs" fill="#000" >ct</text>
<text transform="rotate(-90)" x="-353.98" y="787.07" font-family='"Liberation Serif", serif' font-weight="normal" font-style="normal" font-size="43.34" textLength="86.37" lengthAdjust="spacingAndGlyphs" fill="#000" stroke="#000" stroke-width="0.8">(κΩ)</text>
<text transform="rotate(-90)" x="-1156.89" y="785.30" font-family='"Liberation Sans", sans-serif' font-weight="normal" font-style="normal" font-size="41.43" textLength="26.59" lengthAdjust="spacingAndGlyphs" fill="#000" >Δ</text>
<text transform="rotate(-90)" x="-1129.53" y="784.90" font-family='"Liberation Sans", sans-serif' font-weight="bold" font-style="normal" font-size="43.90" textLength="29.47" lengthAdjust="spacingAndGlyphs" fill="#000" >R</text>
<text transform="rotate(-90)" x="-1098.65" y="795.15" font-family='"Liberation Sans", sans-serif' font-weight="bold" font-style="normal" font-size="45.76" textLength="37.46" lengthAdjust="spacingAndGlyphs" fill="#000" >ct</text>
<text transform="rotate(-90)" x="-1050.98" y="783.02" font-family='"Liberation Serif", serif' font-weight="normal" font-style="normal" font-size="37.50" textLength="81.97" lengthAdjust="spacingAndGlyphs" fill="#000" stroke="#000" stroke-width="0.8">(κΩ)</text>
<path d="M1154.50,496.30 L1171.00,496.30 L1177.60,480.20 L1185.40,513.80 L1198.00,479.60 L1205.80,513.20 L1209.40,496.30 L1232.80,496.30" fill="none" stroke="#000" stroke-width="3.4" stroke-linejoin="miter" stroke-miterlimit="6" stroke-linecap="butt"/>
<path d="M1284.10,468.80 L1232.80,468.80 L1232.80,518.00 L1264.60,518.00 L1271.80,502.00 L1280.60,536.00 L1294.40,501.50 L1303.30,536.00 L1309.00,518.00 L1322.30,518.00 L1322.30,468.80 L1298.20,468.80" fill="none" stroke="#000" stroke-width="3.4" stroke-linejoin="miter" stroke-miterlimit="6" stroke-linecap="butt"/>
<path d="M1281.10,452 Q1288.60,469 1281.10,486.2" fill="none" stroke="#000" stroke-width="3.4"/>
<line x1="1298.20" y1="452.00" x2="1298.20" y2="486.20" stroke="#000" stroke-width="3.4" />
<path d="M1322.30,496.30 L1354.30,496.30" fill="none" stroke="#000" stroke-width="3.4" stroke-linejoin="miter" stroke-miterlimit="6" stroke-linecap="butt"/>
<path d="M1407.00,468.80 L1354.30,468.80 L1354.30,518.00 L1387.00,518.00 L1394.20,502.00 L1403.00,536.00 L1416.80,501.50 L1425.70,536.00 L1431.40,518.00 L1448.40,518.00 L1448.40,468.80 L1421.50,468.80" fill="none" stroke="#000" stroke-width="3.4" stroke-linejoin="miter" stroke-miterlimit="6" stroke-linecap="butt"/>
<path d="M1404.00,452 Q1411.50,469 1404.00,486.2" fill="none" stroke="#000" stroke-width="3.4"/>
<line x1="1421.50" y1="452.00" x2="1421.50" y2="486.20" stroke="#000" stroke-width="3.4" />
<path d="M1448.40,496.30 L1459.70,496.30" fill="none" stroke="#000" stroke-width="3.4" stroke-linejoin="miter" stroke-miterlimit="6" stroke-linecap="butt"/>
<text x="1180.86" y="468.80" font-family='"Liberation Sans", sans-serif' font-weight="bold" font-style="italic" font-size="34.01" textLength="22.15" lengthAdjust="spacingAndGlyphs" fill="#000" >R</text>
<text x="1201.99" y="476.36" font-family='"Liberation Sans", sans-serif' font-weight="bold" font-style="italic" font-size="24.16" textLength="10.45" lengthAdjust="spacingAndGlyphs" fill="#000" >s</text>
<text x="1271.27" y="439.95" font-family='"Liberation Sans", sans-serif' font-weight="bold" font-style="italic" font-size="35.73" textLength="21.08" lengthAdjust="spacingAndGlyphs" fill="#000" >C</text>
<text x="1290.65" y="447.47" font-family='"Liberation Sans", sans-serif' font-weight="bold" font-style="italic" font-size="22.73" textLength="33.29" lengthAdjust="spacingAndGlyphs" fill="#000" >dl1</text>
<text x="1395.92" y="439.95" font-family='"Liberation Sans", sans-serif' font-weight="bold" font-style="italic" font-size="35.73" textLength="20.45" lengthAdjust="spacingAndGlyphs" fill="#000" >C</text>
<text x="1415.34" y="447.47" font-family='"Liberation Sans", sans-serif' font-weight="bold" font-style="italic" font-size="22.73" textLength="33.60" lengthAdjust="spacingAndGlyphs" fill="#000" >dl2</text>
<text x="1274.16" y="566.30" font-family='"Liberation Sans", sans-serif' font-weight="bold" font-style="italic" font-size="34.88" textLength="22.05" lengthAdjust="spacingAndGlyphs" fill="#000" >R</text>
<text x="1295.32" y="574.08" font-family='"Liberation Sans", sans-serif' font-weight="bold" font-style="italic" font-size="22.93" textLength="31.86" lengthAdjust="spacingAndGlyphs" fill="#000" >ct1</text>
<text x="1390.16" y="566.30" font-family='"Liberation Sans", sans-serif' font-weight="bold" font-style="italic" font-size="34.88" textLength="22.05" lengthAdjust="spacingAndGlyphs" fill="#000" >R</text>
<text x="1411.33" y="574.08" font-family='"Liberation Sans", sans-serif' font-weight="bold" font-style="italic" font-size="22.60" textLength="31.60" lengthAdjust="spacingAndGlyphs" fill="#000" >ct2</text>
<path d="M1162.80,1171.30 L1190.50,1171.30 L1200.10,1148.80 L1210.80,1196.80 L1228.90,1147.70 L1240.70,1195.70 L1246.00,1171.30 L1266.90,1171.30" fill="none" stroke="#000" stroke-width="4.8" stroke-linejoin="miter" stroke-miterlimit="6" stroke-linecap="butt"/>
<path d="M1316.50,1133.00 L1266.90,1133.00 L1266.90,1201.30 L1292.00,1201.30 L1302.20,1178.00 L1312.40,1227.20 L1330.40,1177.40 L1341.20,1226.60 L1347.20,1201.30 L1366.40,1201.30 L1366.40,1133.00 L1334.90,1133.00" fill="none" stroke="#000" stroke-width="4.8" stroke-linejoin="miter" stroke-miterlimit="6" stroke-linecap="butt"/>
<path d="M1311,1107.5 Q1323,1131.5 1311,1156.3" fill="none" stroke="#000" stroke-width="4.8"/>
<line x1="1334.90" y1="1107.50" x2="1334.90" y2="1156.30" stroke="#000" stroke-width="4.8" />
<path d="M1366.40,1171.30 L1383.20,1171.30" fill="none" stroke="#000" stroke-width="4.8" stroke-linejoin="miter" stroke-miterlimit="6" stroke-linecap="butt"/>
<text x="1388.39" y="1189.40" font-family='"Liberation Sans", sans-serif' font-weight="normal" font-style="normal" font-size="46.66" textLength="44.77" lengthAdjust="spacingAndGlyphs" fill="#000" >W</text>
<line x1="1437.20" y1="1171.70" x2="1452.80" y2="1171.70" stroke="#000" stroke-width="5.0" />
<text x="1205.74" y="1122.70" font-family='"Liberation Sans", sans-serif' font-weight="bold" font-style="italic" font-size="43.46" textLength="27.01" lengthAdjust="spacingAndGlyphs" fill="#000" >R</text>
<text x="1232.23" y="1133.62" font-family='"Liberation Sans", sans-serif' font-weight="bold" font-style="italic" font-size="28.37" textLength="13.39" lengthAdjust="spacingAndGlyphs" fill="#000" >s</text>
<text x="1287.17" y="1075.87" font-family='"Liberation Sans", sans-serif' font-weight="bold" font-style="italic" font-size="44.49" textLength="27.09" lengthAdjust="spacingAndGlyphs" fill="#000" >C</text>
<text x="1312.17" y="1086.10" font-family='"Liberation Sans", sans-serif' font-weight="bold" font-style="italic" font-size="29.12" textLength="26.03" lengthAdjust="spacingAndGlyphs" fill="#000" >dl</text>
<text x="1301.53" y="1264.40" font-family='"Liberation Sans", sans-serif' font-weight="bold" font-style="italic" font-size="42.73" textLength="27.32" lengthAdjust="spacingAndGlyphs" fill="#000" >R</text>
<text x="1328.37" y="1274.92" font-family='"Liberation Sans", sans-serif' font-weight="bold" font-style="italic" font-size="29.00" textLength="23.91" lengthAdjust="spacingAndGlyphs" fill="#000" >ct</text>
</svg>
</body></html>
